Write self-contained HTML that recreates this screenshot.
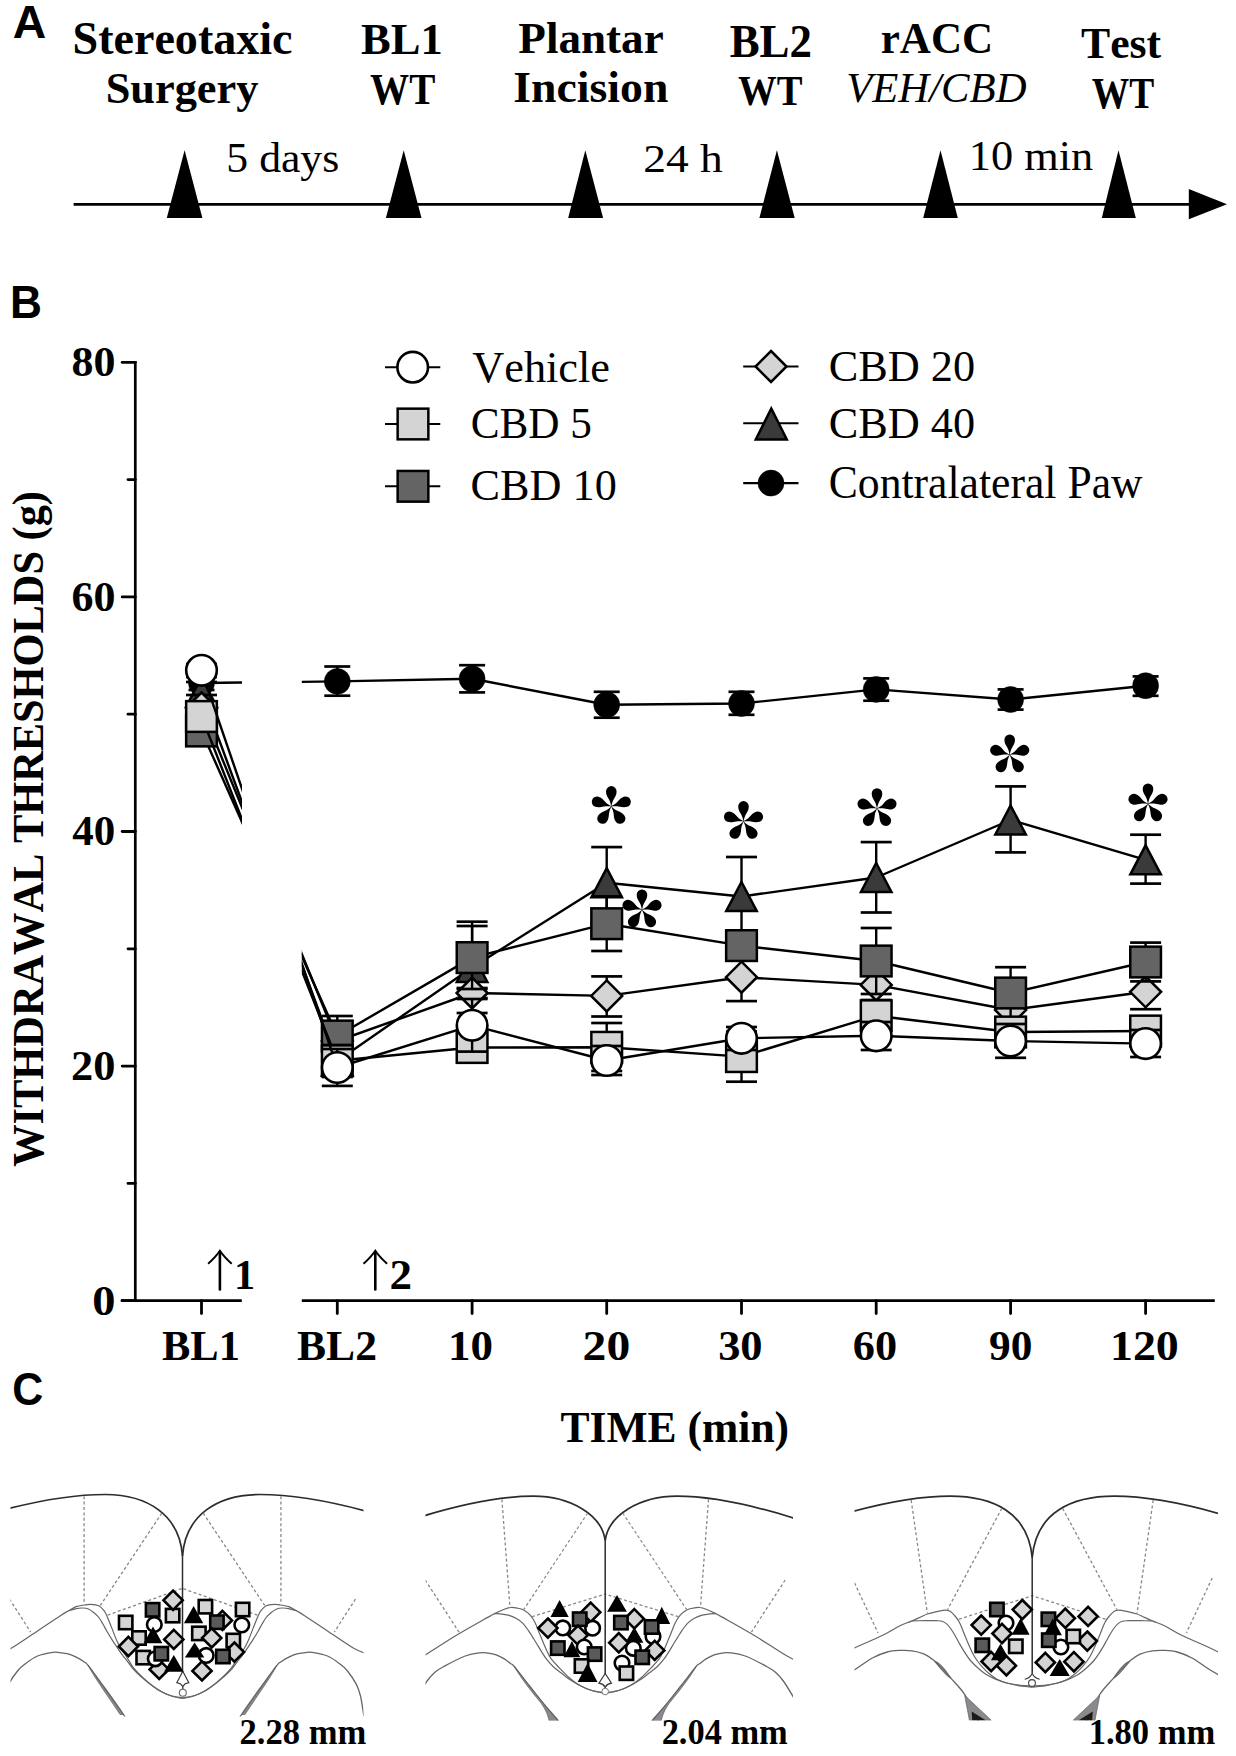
<!DOCTYPE html>
<html><head><meta charset="utf-8"><style>
html,body{margin:0;padding:0;background:#fff;overflow:hidden}
svg{display:block}
text{font-kerning:none;font-feature-settings:"kern" 0;}
</style></head><body>
<svg width="1236" height="1756" viewBox="0 0 1236 1756">
<rect width="1236" height="1756" fill="#fff"/>
<text transform="translate(12.85,38.00) scale(0.9905,1)" font-family="'Liberation Sans', sans-serif" font-weight="bold" font-style="normal" font-size="46.8" fill="#000">A</text>
<text transform="translate(72.55,54.00) scale(0.9998,1)" font-family="'Liberation Serif', serif" font-weight="bold" font-style="normal" font-size="46.1" fill="#000">Stereotaxic</text>
<text transform="translate(105.64,103.00) scale(1.0015,1)" font-family="'Liberation Serif', serif" font-weight="bold" font-style="normal" font-size="44.3" fill="#000">Surgery</text>
<text transform="translate(361.06,53.70) scale(1.0200,1)" font-family="'Liberation Serif', serif" font-weight="bold" font-style="normal" font-size="43.7" fill="#000">BL1</text>
<text transform="translate(370.05,103.80) scale(0.8815,1)" font-family="'Liberation Serif', serif" font-weight="bold" font-style="normal" font-size="44.4" fill="#000">WT</text>
<text transform="translate(518.33,53.10) scale(1.0378,1)" font-family="'Liberation Serif', serif" font-weight="bold" font-style="normal" font-size="43.5" fill="#000">Plantar</text>
<text transform="translate(513.26,101.80) scale(1.0260,1)" font-family="'Liberation Serif', serif" font-weight="bold" font-style="normal" font-size="44.6" fill="#000">Incision</text>
<text transform="translate(729.65,56.50) scale(0.9872,1)" font-family="'Liberation Serif', serif" font-weight="bold" font-style="normal" font-size="45.5" fill="#000">BL2</text>
<text transform="translate(738.05,104.90) scale(0.9073,1)" font-family="'Liberation Serif', serif" font-weight="bold" font-style="normal" font-size="42.6" fill="#000">WT</text>
<text transform="translate(880.74,52.80) scale(0.9825,1)" font-family="'Liberation Serif', serif" font-weight="bold" font-style="normal" font-size="43.8" fill="#000">rACC</text>
<text transform="translate(846.17,102.30) scale(0.9890,1)" font-family="'Liberation Serif', serif" font-weight="normal" font-style="italic" font-size="43.2" fill="#000">VEH/CBD</text>
<text transform="translate(1081.02,58.40) scale(0.9874,1)" font-family="'Liberation Serif', serif" font-weight="bold" font-style="normal" font-size="44.3" fill="#000">Test</text>
<text transform="translate(1091.67,107.50) scale(0.8560,1)" font-family="'Liberation Serif', serif" font-weight="bold" font-style="normal" font-size="43.8" fill="#000">WT</text>
<text transform="translate(226.36,172.00) scale(1.0458,1)" font-family="'Liberation Serif', serif" font-weight="normal" font-style="normal" font-size="41.8" fill="#000">5 days</text>
<text transform="translate(643.20,172.00) scale(1.1094,1)" font-family="'Liberation Serif', serif" font-weight="normal" font-style="normal" font-size="41" fill="#000">24 h</text>
<text transform="translate(968.80,170.30) scale(1.0639,1)" font-family="'Liberation Serif', serif" font-weight="normal" font-style="normal" font-size="41.7" fill="#000">10 min</text>
<line x1="73.60" y1="204.40" x2="1195.00" y2="204.40" stroke="#000" stroke-width="2.6" />
<path d="M1188.8,189 L1227,204.3 L1188.8,219.3 Z" fill="#000" stroke="none" stroke-width="2" />
<path d="M184.6,150.3 L202.4,218 L166.8,218 Z" fill="#000" stroke="none" stroke-width="2" />
<path d="M403.7,150.3 L421.5,218 L385.9,218 Z" fill="#000" stroke="none" stroke-width="2" />
<path d="M585.3,150.3 L603.1,218 L568.2,218 Z" fill="#000" stroke="none" stroke-width="2" />
<path d="M776.9,150.3 L794.7,218 L759.4,218 Z" fill="#000" stroke="none" stroke-width="2" />
<path d="M940.5,150.3 L957.8,218 L923.2,218 Z" fill="#000" stroke="none" stroke-width="2" />
<path d="M1118.5,150.3 L1135.8,218 L1101.8,218 Z" fill="#000" stroke="none" stroke-width="2" />
<text transform="translate(10.04,317.90) scale(0.9521,1)" font-family="'Liberation Sans', sans-serif" font-weight="bold" font-style="normal" font-size="46.5" fill="#000">B</text>
<line x1="135.30" y1="361.00" x2="135.30" y2="1302.00" stroke="#000" stroke-width="2.7" />
<line x1="122.20" y1="1300.70" x2="135.30" y2="1300.70" stroke="#000" stroke-width="2.8" stroke-linecap="round"/>
<line x1="128.00" y1="1183.40" x2="135.30" y2="1183.40" stroke="#000" stroke-width="2.8" stroke-linecap="round"/>
<line x1="122.20" y1="1066.10" x2="135.30" y2="1066.10" stroke="#000" stroke-width="2.8" stroke-linecap="round"/>
<line x1="128.00" y1="948.80" x2="135.30" y2="948.80" stroke="#000" stroke-width="2.8" stroke-linecap="round"/>
<line x1="122.20" y1="831.50" x2="135.30" y2="831.50" stroke="#000" stroke-width="2.8" stroke-linecap="round"/>
<line x1="128.00" y1="714.20" x2="135.30" y2="714.20" stroke="#000" stroke-width="2.8" stroke-linecap="round"/>
<line x1="122.20" y1="596.90" x2="135.30" y2="596.90" stroke="#000" stroke-width="2.8" stroke-linecap="round"/>
<line x1="128.00" y1="479.60" x2="135.30" y2="479.60" stroke="#000" stroke-width="2.8" stroke-linecap="round"/>
<line x1="122.20" y1="362.30" x2="135.30" y2="362.30" stroke="#000" stroke-width="2.8" stroke-linecap="round"/>
<text transform="translate(71.44,376.10) scale(1.0460,1)" font-family="'Liberation Serif', serif" font-weight="bold" font-style="normal" font-size="42" fill="#000">80</text>
<text transform="translate(71.40,610.70) scale(1.0471,1)" font-family="'Liberation Serif', serif" font-weight="bold" font-style="normal" font-size="42" fill="#000">60</text>
<text transform="translate(72.31,845.30) scale(1.0245,1)" font-family="'Liberation Serif', serif" font-weight="bold" font-style="normal" font-size="42" fill="#000">40</text>
<text transform="translate(71.04,1079.90) scale(1.0560,1)" font-family="'Liberation Serif', serif" font-weight="bold" font-style="normal" font-size="42" fill="#000">20</text>
<text transform="translate(92.23,1314.50) scale(1.1067,1)" font-family="'Liberation Serif', serif" font-weight="bold" font-style="normal" font-size="42" fill="#000">0</text>
<line x1="120.80" y1="1300.70" x2="241.80" y2="1300.70" stroke="#000" stroke-width="2.7" />
<line x1="301.80" y1="1300.70" x2="1214.80" y2="1300.70" stroke="#000" stroke-width="2.7" />
<line x1="201.50" y1="1300.70" x2="201.50" y2="1313.60" stroke="#000" stroke-width="2.8" stroke-linecap="round"/>
<line x1="337.30" y1="1300.70" x2="337.30" y2="1313.60" stroke="#000" stroke-width="2.8" stroke-linecap="round"/>
<line x1="472.10" y1="1300.70" x2="472.10" y2="1313.60" stroke="#000" stroke-width="2.8" stroke-linecap="round"/>
<line x1="606.70" y1="1300.70" x2="606.70" y2="1313.60" stroke="#000" stroke-width="2.8" stroke-linecap="round"/>
<line x1="741.50" y1="1300.70" x2="741.50" y2="1313.60" stroke="#000" stroke-width="2.8" stroke-linecap="round"/>
<line x1="876.20" y1="1300.70" x2="876.20" y2="1313.60" stroke="#000" stroke-width="2.8" stroke-linecap="round"/>
<line x1="1010.60" y1="1300.70" x2="1010.60" y2="1313.60" stroke="#000" stroke-width="2.8" stroke-linecap="round"/>
<line x1="1145.60" y1="1300.70" x2="1145.60" y2="1313.60" stroke="#000" stroke-width="2.8" stroke-linecap="round"/>
<text transform="translate(161.99,1359.60) scale(1.0127,1)" font-family="'Liberation Serif', serif" font-weight="bold" font-style="normal" font-size="42" fill="#000">BL1</text>
<text transform="translate(297.08,1359.60) scale(1.0372,1)" font-family="'Liberation Serif', serif" font-weight="bold" font-style="normal" font-size="42" fill="#000">BL2</text>
<text transform="translate(447.99,1359.60) scale(1.0719,1)" font-family="'Liberation Serif', serif" font-weight="bold" font-style="normal" font-size="42" fill="#000">10</text>
<text transform="translate(582.60,1359.60) scale(1.1336,1)" font-family="'Liberation Serif', serif" font-weight="bold" font-style="normal" font-size="42" fill="#000">20</text>
<text transform="translate(718.13,1359.60) scale(1.0587,1)" font-family="'Liberation Serif', serif" font-weight="bold" font-style="normal" font-size="42" fill="#000">30</text>
<text transform="translate(852.79,1359.60) scale(1.0548,1)" font-family="'Liberation Serif', serif" font-weight="bold" font-style="normal" font-size="42" fill="#000">60</text>
<text transform="translate(989.12,1359.60) scale(1.0318,1)" font-family="'Liberation Serif', serif" font-weight="bold" font-style="normal" font-size="42" fill="#000">90</text>
<text transform="translate(1109.92,1359.60) scale(1.0941,1)" font-family="'Liberation Serif', serif" font-weight="bold" font-style="normal" font-size="42" fill="#000">120</text>
<text transform="translate(560.52,1442.00) scale(1.0010,1)" font-family="'Liberation Serif', serif" font-weight="bold" font-style="normal" font-size="43.5" fill="#000">TIME (min)</text>
<text transform="translate(42.90,1166.80) rotate(-90) scale(0.9634,1)" font-family="'Liberation Serif', serif" font-weight="bold" font-style="normal" font-size="44">WITHDRAWAL THRESHOLDS (g)</text>
<defs><clipPath id="cl"><rect x="119" y="300" width="123" height="1000"/><rect x="301.8" y="300" width="930" height="1000"/></clipPath></defs>
<polyline clip-path="url(#cl)" fill="none" stroke="#000" stroke-width="2.4" stroke-linejoin="round" points="201.5,683.0 337.3,681.4 472.1,678.8 606.7,704.7 741.5,703.5 876.2,689.4 1010.6,699.5 1145.6,685.7"/>
<line x1="201.50" y1="676.00" x2="201.50" y2="690.00" stroke="#000" stroke-width="2.4" />
<line x1="188.50" y1="676.00" x2="214.50" y2="676.00" stroke="#000" stroke-width="2.7" />
<line x1="188.50" y1="690.00" x2="214.50" y2="690.00" stroke="#000" stroke-width="2.7" />
<line x1="337.30" y1="666.50" x2="337.30" y2="695.70" stroke="#000" stroke-width="2.4" />
<line x1="324.30" y1="666.50" x2="350.30" y2="666.50" stroke="#000" stroke-width="2.7" />
<line x1="324.30" y1="695.70" x2="350.30" y2="695.70" stroke="#000" stroke-width="2.7" />
<line x1="472.10" y1="665.20" x2="472.10" y2="692.40" stroke="#000" stroke-width="2.4" />
<line x1="459.10" y1="665.20" x2="485.10" y2="665.20" stroke="#000" stroke-width="2.7" />
<line x1="459.10" y1="692.40" x2="485.10" y2="692.40" stroke="#000" stroke-width="2.7" />
<line x1="606.70" y1="691.80" x2="606.70" y2="717.70" stroke="#000" stroke-width="2.4" />
<line x1="593.70" y1="691.80" x2="619.70" y2="691.80" stroke="#000" stroke-width="2.7" />
<line x1="593.70" y1="717.70" x2="619.70" y2="717.70" stroke="#000" stroke-width="2.7" />
<line x1="741.50" y1="691.80" x2="741.50" y2="714.80" stroke="#000" stroke-width="2.4" />
<line x1="728.50" y1="691.80" x2="754.50" y2="691.80" stroke="#000" stroke-width="2.7" />
<line x1="728.50" y1="714.80" x2="754.50" y2="714.80" stroke="#000" stroke-width="2.7" />
<line x1="876.20" y1="678.40" x2="876.20" y2="700.70" stroke="#000" stroke-width="2.4" />
<line x1="863.20" y1="678.40" x2="889.20" y2="678.40" stroke="#000" stroke-width="2.7" />
<line x1="863.20" y1="700.70" x2="889.20" y2="700.70" stroke="#000" stroke-width="2.7" />
<line x1="1010.60" y1="689.40" x2="1010.60" y2="709.60" stroke="#000" stroke-width="2.4" />
<line x1="997.60" y1="689.40" x2="1023.60" y2="689.40" stroke="#000" stroke-width="2.7" />
<line x1="997.60" y1="709.60" x2="1023.60" y2="709.60" stroke="#000" stroke-width="2.7" />
<line x1="1145.60" y1="676.40" x2="1145.60" y2="695.80" stroke="#000" stroke-width="2.4" />
<line x1="1132.60" y1="676.40" x2="1158.60" y2="676.40" stroke="#000" stroke-width="2.7" />
<line x1="1132.60" y1="695.80" x2="1158.60" y2="695.80" stroke="#000" stroke-width="2.7" />
<circle cx="201.50" cy="683.00" r="13" fill="#000" stroke="#000" stroke-width="0.5"/>
<circle cx="337.30" cy="681.40" r="13" fill="#000" stroke="#000" stroke-width="0.5"/>
<circle cx="472.10" cy="678.80" r="13" fill="#000" stroke="#000" stroke-width="0.5"/>
<circle cx="606.70" cy="704.70" r="13" fill="#000" stroke="#000" stroke-width="0.5"/>
<circle cx="741.50" cy="703.50" r="13" fill="#000" stroke="#000" stroke-width="0.5"/>
<circle cx="876.20" cy="689.40" r="13" fill="#000" stroke="#000" stroke-width="0.5"/>
<circle cx="1010.60" cy="699.50" r="13" fill="#000" stroke="#000" stroke-width="0.5"/>
<circle cx="1145.60" cy="685.70" r="13" fill="#000" stroke="#000" stroke-width="0.5"/>
<polyline clip-path="url(#cl)" fill="none" stroke="#000" stroke-width="2.4" stroke-linejoin="round" points="201.5,692.0 337.3,1061.0 472.1,967.4 606.7,882.7 741.5,896.5 876.2,877.5 1010.6,820.0 1145.6,859.8"/>
<line x1="201.50" y1="682.00" x2="201.50" y2="702.00" stroke="#000" stroke-width="2.4" />
<line x1="186.00" y1="682.00" x2="217.00" y2="682.00" stroke="#000" stroke-width="2.7" />
<line x1="186.00" y1="702.00" x2="217.00" y2="702.00" stroke="#000" stroke-width="2.7" />
<line x1="337.30" y1="1045.00" x2="337.30" y2="1077.00" stroke="#000" stroke-width="2.4" />
<line x1="321.80" y1="1045.00" x2="352.80" y2="1045.00" stroke="#000" stroke-width="2.7" />
<line x1="321.80" y1="1077.00" x2="352.80" y2="1077.00" stroke="#000" stroke-width="2.7" />
<line x1="472.10" y1="921.70" x2="472.10" y2="1013.00" stroke="#000" stroke-width="2.4" />
<line x1="456.60" y1="921.70" x2="487.60" y2="921.70" stroke="#000" stroke-width="2.7" />
<line x1="456.60" y1="1013.00" x2="487.60" y2="1013.00" stroke="#000" stroke-width="2.7" />
<line x1="606.70" y1="847.10" x2="606.70" y2="918.30" stroke="#000" stroke-width="2.4" />
<line x1="591.20" y1="847.10" x2="622.20" y2="847.10" stroke="#000" stroke-width="2.7" />
<line x1="591.20" y1="918.30" x2="622.20" y2="918.30" stroke="#000" stroke-width="2.7" />
<line x1="741.50" y1="857.00" x2="741.50" y2="936.00" stroke="#000" stroke-width="2.4" />
<line x1="726.00" y1="857.00" x2="757.00" y2="857.00" stroke="#000" stroke-width="2.7" />
<line x1="726.00" y1="936.00" x2="757.00" y2="936.00" stroke="#000" stroke-width="2.7" />
<line x1="876.20" y1="842.10" x2="876.20" y2="912.50" stroke="#000" stroke-width="2.4" />
<line x1="860.70" y1="842.10" x2="891.70" y2="842.10" stroke="#000" stroke-width="2.7" />
<line x1="860.70" y1="912.50" x2="891.70" y2="912.50" stroke="#000" stroke-width="2.7" />
<line x1="1010.60" y1="786.40" x2="1010.60" y2="852.40" stroke="#000" stroke-width="2.4" />
<line x1="995.10" y1="786.40" x2="1026.10" y2="786.40" stroke="#000" stroke-width="2.7" />
<line x1="995.10" y1="852.40" x2="1026.10" y2="852.40" stroke="#000" stroke-width="2.7" />
<line x1="1145.60" y1="834.70" x2="1145.60" y2="883.60" stroke="#000" stroke-width="2.4" />
<line x1="1130.10" y1="834.70" x2="1161.10" y2="834.70" stroke="#000" stroke-width="2.7" />
<line x1="1130.10" y1="883.60" x2="1161.10" y2="883.60" stroke="#000" stroke-width="2.7" />
<path d="M201.50,677.50 L216.75,706.50 L186.25,706.50 Z" fill="#3a3a3a" stroke="#000" stroke-width="2.5" stroke-linejoin="miter"/>
<path d="M337.30,1046.50 L352.55,1075.50 L322.05,1075.50 Z" fill="#3a3a3a" stroke="#000" stroke-width="2.5" stroke-linejoin="miter"/>
<path d="M472.10,952.90 L487.35,981.90 L456.85,981.90 Z" fill="#3a3a3a" stroke="#000" stroke-width="2.5" stroke-linejoin="miter"/>
<path d="M606.70,868.20 L621.95,897.20 L591.45,897.20 Z" fill="#3a3a3a" stroke="#000" stroke-width="2.5" stroke-linejoin="miter"/>
<path d="M741.50,882.00 L756.75,911.00 L726.25,911.00 Z" fill="#3a3a3a" stroke="#000" stroke-width="2.5" stroke-linejoin="miter"/>
<path d="M876.20,863.00 L891.45,892.00 L860.95,892.00 Z" fill="#3a3a3a" stroke="#000" stroke-width="2.5" stroke-linejoin="miter"/>
<path d="M1010.60,805.50 L1025.85,834.50 L995.35,834.50 Z" fill="#3a3a3a" stroke="#000" stroke-width="2.5" stroke-linejoin="miter"/>
<path d="M1145.60,845.30 L1160.85,874.30 L1130.35,874.30 Z" fill="#3a3a3a" stroke="#000" stroke-width="2.5" stroke-linejoin="miter"/>
<polyline clip-path="url(#cl)" fill="none" stroke="#000" stroke-width="2.4" stroke-linejoin="round" points="201.5,708.0 337.3,1041.0 472.1,993.0 606.7,995.9 741.5,977.2 876.2,984.9 1010.6,1010.0 1145.6,991.8"/>
<line x1="201.50" y1="695.00" x2="201.50" y2="721.00" stroke="#000" stroke-width="2.4" />
<line x1="186.00" y1="695.00" x2="217.00" y2="695.00" stroke="#000" stroke-width="2.7" />
<line x1="186.00" y1="721.00" x2="217.00" y2="721.00" stroke="#000" stroke-width="2.7" />
<line x1="337.30" y1="1025.00" x2="337.30" y2="1057.00" stroke="#000" stroke-width="2.4" />
<line x1="321.80" y1="1025.00" x2="352.80" y2="1025.00" stroke="#000" stroke-width="2.7" />
<line x1="321.80" y1="1057.00" x2="352.80" y2="1057.00" stroke="#000" stroke-width="2.7" />
<line x1="472.10" y1="988.00" x2="472.10" y2="998.00" stroke="#000" stroke-width="2.4" />
<line x1="456.60" y1="988.00" x2="487.60" y2="988.00" stroke="#000" stroke-width="2.7" />
<line x1="456.60" y1="998.00" x2="487.60" y2="998.00" stroke="#000" stroke-width="2.7" />
<line x1="606.70" y1="976.40" x2="606.70" y2="1016.50" stroke="#000" stroke-width="2.4" />
<line x1="591.20" y1="976.40" x2="622.20" y2="976.40" stroke="#000" stroke-width="2.7" />
<line x1="591.20" y1="1016.50" x2="622.20" y2="1016.50" stroke="#000" stroke-width="2.7" />
<line x1="741.50" y1="953.00" x2="741.50" y2="1001.10" stroke="#000" stroke-width="2.4" />
<line x1="726.00" y1="953.00" x2="757.00" y2="953.00" stroke="#000" stroke-width="2.7" />
<line x1="726.00" y1="1001.10" x2="757.00" y2="1001.10" stroke="#000" stroke-width="2.7" />
<line x1="876.20" y1="968.00" x2="876.20" y2="1002.00" stroke="#000" stroke-width="2.4" />
<line x1="860.70" y1="968.00" x2="891.70" y2="968.00" stroke="#000" stroke-width="2.7" />
<line x1="860.70" y1="1002.00" x2="891.70" y2="1002.00" stroke="#000" stroke-width="2.7" />
<line x1="1010.60" y1="995.00" x2="1010.60" y2="1025.00" stroke="#000" stroke-width="2.4" />
<line x1="995.10" y1="995.00" x2="1026.10" y2="995.00" stroke="#000" stroke-width="2.7" />
<line x1="995.10" y1="1025.00" x2="1026.10" y2="1025.00" stroke="#000" stroke-width="2.7" />
<line x1="1145.60" y1="974.40" x2="1145.60" y2="1009.20" stroke="#000" stroke-width="2.4" />
<line x1="1130.10" y1="974.40" x2="1161.10" y2="974.40" stroke="#000" stroke-width="2.7" />
<line x1="1130.10" y1="1009.20" x2="1161.10" y2="1009.20" stroke="#000" stroke-width="2.7" />
<path d="M201.50,692.50 L217.00,708.00 L201.50,723.50 L186.00,708.00 Z" fill="#d4d4d4" stroke="#000" stroke-width="2.5" stroke-linejoin="miter"/>
<path d="M337.30,1025.50 L352.80,1041.00 L337.30,1056.50 L321.80,1041.00 Z" fill="#d4d4d4" stroke="#000" stroke-width="2.5" stroke-linejoin="miter"/>
<path d="M472.10,977.50 L487.60,993.00 L472.10,1008.50 L456.60,993.00 Z" fill="#d4d4d4" stroke="#000" stroke-width="2.5" stroke-linejoin="miter"/>
<path d="M606.70,980.40 L622.20,995.90 L606.70,1011.40 L591.20,995.90 Z" fill="#d4d4d4" stroke="#000" stroke-width="2.5" stroke-linejoin="miter"/>
<path d="M741.50,961.70 L757.00,977.20 L741.50,992.70 L726.00,977.20 Z" fill="#d4d4d4" stroke="#000" stroke-width="2.5" stroke-linejoin="miter"/>
<path d="M876.20,969.40 L891.70,984.90 L876.20,1000.40 L860.70,984.90 Z" fill="#d4d4d4" stroke="#000" stroke-width="2.5" stroke-linejoin="miter"/>
<path d="M1010.60,994.50 L1026.10,1010.00 L1010.60,1025.50 L995.10,1010.00 Z" fill="#d4d4d4" stroke="#000" stroke-width="2.5" stroke-linejoin="miter"/>
<path d="M1145.60,976.30 L1161.10,991.80 L1145.60,1007.30 L1130.10,991.80 Z" fill="#d4d4d4" stroke="#000" stroke-width="2.5" stroke-linejoin="miter"/>
<polyline clip-path="url(#cl)" fill="none" stroke="#000" stroke-width="2.4" stroke-linejoin="round" points="201.5,731.0 337.3,1036.0 472.1,957.6 606.7,923.7 741.5,945.6 876.2,961.0 1010.6,993.0 1145.6,962.0"/>
<line x1="201.50" y1="720.00" x2="201.50" y2="742.00" stroke="#000" stroke-width="2.4" />
<line x1="186.00" y1="720.00" x2="217.00" y2="720.00" stroke="#000" stroke-width="2.7" />
<line x1="186.00" y1="742.00" x2="217.00" y2="742.00" stroke="#000" stroke-width="2.7" />
<line x1="337.30" y1="1016.00" x2="337.30" y2="1051.50" stroke="#000" stroke-width="2.4" />
<line x1="321.80" y1="1016.00" x2="352.80" y2="1016.00" stroke="#000" stroke-width="2.7" />
<line x1="321.80" y1="1051.50" x2="352.80" y2="1051.50" stroke="#000" stroke-width="2.7" />
<line x1="472.10" y1="926.00" x2="472.10" y2="989.00" stroke="#000" stroke-width="2.4" />
<line x1="456.60" y1="926.00" x2="487.60" y2="926.00" stroke="#000" stroke-width="2.7" />
<line x1="456.60" y1="989.00" x2="487.60" y2="989.00" stroke="#000" stroke-width="2.7" />
<line x1="606.70" y1="896.40" x2="606.70" y2="951.00" stroke="#000" stroke-width="2.4" />
<line x1="591.20" y1="896.40" x2="622.20" y2="896.40" stroke="#000" stroke-width="2.7" />
<line x1="591.20" y1="951.00" x2="622.20" y2="951.00" stroke="#000" stroke-width="2.7" />
<line x1="741.50" y1="935.00" x2="741.50" y2="956.00" stroke="#000" stroke-width="2.4" />
<line x1="726.00" y1="935.00" x2="757.00" y2="935.00" stroke="#000" stroke-width="2.7" />
<line x1="726.00" y1="956.00" x2="757.00" y2="956.00" stroke="#000" stroke-width="2.7" />
<line x1="876.20" y1="928.00" x2="876.20" y2="994.00" stroke="#000" stroke-width="2.4" />
<line x1="860.70" y1="928.00" x2="891.70" y2="928.00" stroke="#000" stroke-width="2.7" />
<line x1="860.70" y1="994.00" x2="891.70" y2="994.00" stroke="#000" stroke-width="2.7" />
<line x1="1010.60" y1="967.20" x2="1010.60" y2="1018.80" stroke="#000" stroke-width="2.4" />
<line x1="995.10" y1="967.20" x2="1026.10" y2="967.20" stroke="#000" stroke-width="2.7" />
<line x1="995.10" y1="1018.80" x2="1026.10" y2="1018.80" stroke="#000" stroke-width="2.7" />
<line x1="1145.60" y1="942.60" x2="1145.60" y2="981.40" stroke="#000" stroke-width="2.4" />
<line x1="1130.10" y1="942.60" x2="1161.10" y2="942.60" stroke="#000" stroke-width="2.7" />
<line x1="1130.10" y1="981.40" x2="1161.10" y2="981.40" stroke="#000" stroke-width="2.7" />
<rect x="186.15" y="715.65" width="30.7" height="30.7" fill="#646464" stroke="#000" stroke-width="2.5"/>
<rect x="321.95" y="1020.65" width="30.7" height="30.7" fill="#646464" stroke="#000" stroke-width="2.5"/>
<rect x="456.75" y="942.25" width="30.7" height="30.7" fill="#646464" stroke="#000" stroke-width="2.5"/>
<rect x="591.35" y="908.35" width="30.7" height="30.7" fill="#646464" stroke="#000" stroke-width="2.5"/>
<rect x="726.15" y="930.25" width="30.7" height="30.7" fill="#646464" stroke="#000" stroke-width="2.5"/>
<rect x="860.85" y="945.65" width="30.7" height="30.7" fill="#646464" stroke="#000" stroke-width="2.5"/>
<rect x="995.25" y="977.65" width="30.7" height="30.7" fill="#646464" stroke="#000" stroke-width="2.5"/>
<rect x="1130.25" y="946.65" width="30.7" height="30.7" fill="#646464" stroke="#000" stroke-width="2.5"/>
<polyline clip-path="url(#cl)" fill="none" stroke="#000" stroke-width="2.4" stroke-linejoin="round" points="201.5,716.5 337.3,1060.8 472.1,1047.5 606.7,1047.3 741.5,1056.6 876.2,1015.7 1010.6,1032.0 1145.6,1031.0"/>
<line x1="201.50" y1="705.00" x2="201.50" y2="728.00" stroke="#000" stroke-width="2.4" />
<line x1="186.00" y1="705.00" x2="217.00" y2="705.00" stroke="#000" stroke-width="2.7" />
<line x1="186.00" y1="728.00" x2="217.00" y2="728.00" stroke="#000" stroke-width="2.7" />
<line x1="337.30" y1="1045.00" x2="337.30" y2="1076.00" stroke="#000" stroke-width="2.4" />
<line x1="321.80" y1="1045.00" x2="352.80" y2="1045.00" stroke="#000" stroke-width="2.7" />
<line x1="321.80" y1="1076.00" x2="352.80" y2="1076.00" stroke="#000" stroke-width="2.7" />
<line x1="472.10" y1="1030.00" x2="472.10" y2="1060.00" stroke="#000" stroke-width="2.4" />
<line x1="456.60" y1="1030.00" x2="487.60" y2="1030.00" stroke="#000" stroke-width="2.7" />
<line x1="456.60" y1="1060.00" x2="487.60" y2="1060.00" stroke="#000" stroke-width="2.7" />
<line x1="606.70" y1="1023.00" x2="606.70" y2="1071.00" stroke="#000" stroke-width="2.4" />
<line x1="591.20" y1="1023.00" x2="622.20" y2="1023.00" stroke="#000" stroke-width="2.7" />
<line x1="591.20" y1="1071.00" x2="622.20" y2="1071.00" stroke="#000" stroke-width="2.7" />
<line x1="741.50" y1="1031.50" x2="741.50" y2="1081.70" stroke="#000" stroke-width="2.4" />
<line x1="726.00" y1="1031.50" x2="757.00" y2="1031.50" stroke="#000" stroke-width="2.7" />
<line x1="726.00" y1="1081.70" x2="757.00" y2="1081.70" stroke="#000" stroke-width="2.7" />
<line x1="876.20" y1="1000.00" x2="876.20" y2="1031.00" stroke="#000" stroke-width="2.4" />
<line x1="860.70" y1="1000.00" x2="891.70" y2="1000.00" stroke="#000" stroke-width="2.7" />
<line x1="860.70" y1="1031.00" x2="891.70" y2="1031.00" stroke="#000" stroke-width="2.7" />
<line x1="1010.60" y1="1019.00" x2="1010.60" y2="1045.00" stroke="#000" stroke-width="2.4" />
<line x1="995.10" y1="1019.00" x2="1026.10" y2="1019.00" stroke="#000" stroke-width="2.7" />
<line x1="995.10" y1="1045.00" x2="1026.10" y2="1045.00" stroke="#000" stroke-width="2.7" />
<line x1="1145.60" y1="1018.00" x2="1145.60" y2="1044.00" stroke="#000" stroke-width="2.4" />
<line x1="1130.10" y1="1018.00" x2="1161.10" y2="1018.00" stroke="#000" stroke-width="2.7" />
<line x1="1130.10" y1="1044.00" x2="1161.10" y2="1044.00" stroke="#000" stroke-width="2.7" />
<rect x="186.15" y="701.15" width="30.7" height="30.7" fill="#d4d4d4" stroke="#000" stroke-width="2.5"/>
<rect x="321.95" y="1045.45" width="30.7" height="30.7" fill="#d4d4d4" stroke="#000" stroke-width="2.5"/>
<rect x="456.75" y="1032.15" width="30.7" height="30.7" fill="#d4d4d4" stroke="#000" stroke-width="2.5"/>
<rect x="591.35" y="1031.95" width="30.7" height="30.7" fill="#d4d4d4" stroke="#000" stroke-width="2.5"/>
<rect x="726.15" y="1041.25" width="30.7" height="30.7" fill="#d4d4d4" stroke="#000" stroke-width="2.5"/>
<rect x="860.85" y="1000.35" width="30.7" height="30.7" fill="#d4d4d4" stroke="#000" stroke-width="2.5"/>
<rect x="995.25" y="1016.65" width="30.7" height="30.7" fill="#d4d4d4" stroke="#000" stroke-width="2.5"/>
<rect x="1130.25" y="1015.65" width="30.7" height="30.7" fill="#d4d4d4" stroke="#000" stroke-width="2.5"/>
<polyline clip-path="url(#cl)" fill="none" stroke="#000" stroke-width="2.4" stroke-linejoin="round" points="201.5,670.3 337.3,1067.5 472.1,1025.3 606.7,1060.5 741.5,1038.3 876.2,1035.8 1010.6,1041.0 1145.6,1043.6"/>
<line x1="201.50" y1="664.00" x2="201.50" y2="677.00" stroke="#000" stroke-width="2.4" />
<line x1="186.00" y1="664.00" x2="217.00" y2="664.00" stroke="#000" stroke-width="2.7" />
<line x1="186.00" y1="677.00" x2="217.00" y2="677.00" stroke="#000" stroke-width="2.7" />
<line x1="337.30" y1="1049.00" x2="337.30" y2="1085.90" stroke="#000" stroke-width="2.4" />
<line x1="321.80" y1="1049.00" x2="352.80" y2="1049.00" stroke="#000" stroke-width="2.7" />
<line x1="321.80" y1="1085.90" x2="352.80" y2="1085.90" stroke="#000" stroke-width="2.7" />
<line x1="472.10" y1="999.00" x2="472.10" y2="1051.60" stroke="#000" stroke-width="2.4" />
<line x1="456.60" y1="999.00" x2="487.60" y2="999.00" stroke="#000" stroke-width="2.7" />
<line x1="456.60" y1="1051.60" x2="487.60" y2="1051.60" stroke="#000" stroke-width="2.7" />
<line x1="606.70" y1="1046.00" x2="606.70" y2="1075.00" stroke="#000" stroke-width="2.4" />
<line x1="591.20" y1="1046.00" x2="622.20" y2="1046.00" stroke="#000" stroke-width="2.7" />
<line x1="591.20" y1="1075.00" x2="622.20" y2="1075.00" stroke="#000" stroke-width="2.7" />
<line x1="741.50" y1="1027.00" x2="741.50" y2="1050.00" stroke="#000" stroke-width="2.4" />
<line x1="726.00" y1="1027.00" x2="757.00" y2="1027.00" stroke="#000" stroke-width="2.7" />
<line x1="726.00" y1="1050.00" x2="757.00" y2="1050.00" stroke="#000" stroke-width="2.7" />
<line x1="876.20" y1="1022.00" x2="876.20" y2="1050.00" stroke="#000" stroke-width="2.4" />
<line x1="860.70" y1="1022.00" x2="891.70" y2="1022.00" stroke="#000" stroke-width="2.7" />
<line x1="860.70" y1="1050.00" x2="891.70" y2="1050.00" stroke="#000" stroke-width="2.7" />
<line x1="1010.60" y1="1024.00" x2="1010.60" y2="1057.80" stroke="#000" stroke-width="2.4" />
<line x1="995.10" y1="1024.00" x2="1026.10" y2="1024.00" stroke="#000" stroke-width="2.7" />
<line x1="995.10" y1="1057.80" x2="1026.10" y2="1057.80" stroke="#000" stroke-width="2.7" />
<line x1="1145.60" y1="1030.00" x2="1145.60" y2="1057.00" stroke="#000" stroke-width="2.4" />
<line x1="1130.10" y1="1030.00" x2="1161.10" y2="1030.00" stroke="#000" stroke-width="2.7" />
<line x1="1130.10" y1="1057.00" x2="1161.10" y2="1057.00" stroke="#000" stroke-width="2.7" />
<circle cx="201.50" cy="670.30" r="15.3" fill="#fff" stroke="#000" stroke-width="2.6"/>
<circle cx="337.30" cy="1067.50" r="15.3" fill="#fff" stroke="#000" stroke-width="2.6"/>
<circle cx="472.10" cy="1025.30" r="15.3" fill="#fff" stroke="#000" stroke-width="2.6"/>
<circle cx="606.70" cy="1060.50" r="15.3" fill="#fff" stroke="#000" stroke-width="2.6"/>
<circle cx="741.50" cy="1038.30" r="15.3" fill="#fff" stroke="#000" stroke-width="2.6"/>
<circle cx="876.20" cy="1035.80" r="15.3" fill="#fff" stroke="#000" stroke-width="2.6"/>
<circle cx="1010.60" cy="1041.00" r="15.3" fill="#fff" stroke="#000" stroke-width="2.6"/>
<circle cx="1145.60" cy="1043.60" r="15.3" fill="#fff" stroke="#000" stroke-width="2.6"/>
<g transform="translate(611.30,806.40) scale(1.0)"><path d="M0,0.6 C-0.6,-3 -1.2,-5 -2.3,-7 C-3.6,-9.5 -5.3,-11.5 -5.3,-15 A5.3,5.3 0 1 1 5.3,-15 C5.3,-11.5 3.6,-9.5 2.3,-7 C1.2,-5 0.6,-3 0,0.6 Z" transform="rotate(0)" fill="#000"/><path d="M0,0.6 C-0.6,-3 -1.2,-5 -2.3,-7 C-3.6,-9.5 -5.3,-11.5 -5.3,-15 A5.3,5.3 0 1 1 5.3,-15 C5.3,-11.5 3.6,-9.5 2.3,-7 C1.2,-5 0.6,-3 0,0.6 Z" transform="rotate(72)" fill="#000"/><path d="M0,0.6 C-0.6,-3 -1.2,-5 -2.3,-7 C-3.6,-9.5 -5.3,-11.5 -5.3,-15 A5.3,5.3 0 1 1 5.3,-15 C5.3,-11.5 3.6,-9.5 2.3,-7 C1.2,-5 0.6,-3 0,0.6 Z" transform="rotate(144)" fill="#000"/><path d="M0,0.6 C-0.6,-3 -1.2,-5 -2.3,-7 C-3.6,-9.5 -5.3,-11.5 -5.3,-15 A5.3,5.3 0 1 1 5.3,-15 C5.3,-11.5 3.6,-9.5 2.3,-7 C1.2,-5 0.6,-3 0,0.6 Z" transform="rotate(216)" fill="#000"/><path d="M0,0.6 C-0.6,-3 -1.2,-5 -2.3,-7 C-3.6,-9.5 -5.3,-11.5 -5.3,-15 A5.3,5.3 0 1 1 5.3,-15 C5.3,-11.5 3.6,-9.5 2.3,-7 C1.2,-5 0.6,-3 0,0.6 Z" transform="rotate(288)" fill="#000"/></g>
<g transform="translate(743.50,821.40) scale(1.0)"><path d="M0,0.6 C-0.6,-3 -1.2,-5 -2.3,-7 C-3.6,-9.5 -5.3,-11.5 -5.3,-15 A5.3,5.3 0 1 1 5.3,-15 C5.3,-11.5 3.6,-9.5 2.3,-7 C1.2,-5 0.6,-3 0,0.6 Z" transform="rotate(0)" fill="#000"/><path d="M0,0.6 C-0.6,-3 -1.2,-5 -2.3,-7 C-3.6,-9.5 -5.3,-11.5 -5.3,-15 A5.3,5.3 0 1 1 5.3,-15 C5.3,-11.5 3.6,-9.5 2.3,-7 C1.2,-5 0.6,-3 0,0.6 Z" transform="rotate(72)" fill="#000"/><path d="M0,0.6 C-0.6,-3 -1.2,-5 -2.3,-7 C-3.6,-9.5 -5.3,-11.5 -5.3,-15 A5.3,5.3 0 1 1 5.3,-15 C5.3,-11.5 3.6,-9.5 2.3,-7 C1.2,-5 0.6,-3 0,0.6 Z" transform="rotate(144)" fill="#000"/><path d="M0,0.6 C-0.6,-3 -1.2,-5 -2.3,-7 C-3.6,-9.5 -5.3,-11.5 -5.3,-15 A5.3,5.3 0 1 1 5.3,-15 C5.3,-11.5 3.6,-9.5 2.3,-7 C1.2,-5 0.6,-3 0,0.6 Z" transform="rotate(216)" fill="#000"/><path d="M0,0.6 C-0.6,-3 -1.2,-5 -2.3,-7 C-3.6,-9.5 -5.3,-11.5 -5.3,-15 A5.3,5.3 0 1 1 5.3,-15 C5.3,-11.5 3.6,-9.5 2.3,-7 C1.2,-5 0.6,-3 0,0.6 Z" transform="rotate(288)" fill="#000"/></g>
<g transform="translate(877.00,808.50) scale(1.0)"><path d="M0,0.6 C-0.6,-3 -1.2,-5 -2.3,-7 C-3.6,-9.5 -5.3,-11.5 -5.3,-15 A5.3,5.3 0 1 1 5.3,-15 C5.3,-11.5 3.6,-9.5 2.3,-7 C1.2,-5 0.6,-3 0,0.6 Z" transform="rotate(0)" fill="#000"/><path d="M0,0.6 C-0.6,-3 -1.2,-5 -2.3,-7 C-3.6,-9.5 -5.3,-11.5 -5.3,-15 A5.3,5.3 0 1 1 5.3,-15 C5.3,-11.5 3.6,-9.5 2.3,-7 C1.2,-5 0.6,-3 0,0.6 Z" transform="rotate(72)" fill="#000"/><path d="M0,0.6 C-0.6,-3 -1.2,-5 -2.3,-7 C-3.6,-9.5 -5.3,-11.5 -5.3,-15 A5.3,5.3 0 1 1 5.3,-15 C5.3,-11.5 3.6,-9.5 2.3,-7 C1.2,-5 0.6,-3 0,0.6 Z" transform="rotate(144)" fill="#000"/><path d="M0,0.6 C-0.6,-3 -1.2,-5 -2.3,-7 C-3.6,-9.5 -5.3,-11.5 -5.3,-15 A5.3,5.3 0 1 1 5.3,-15 C5.3,-11.5 3.6,-9.5 2.3,-7 C1.2,-5 0.6,-3 0,0.6 Z" transform="rotate(216)" fill="#000"/><path d="M0,0.6 C-0.6,-3 -1.2,-5 -2.3,-7 C-3.6,-9.5 -5.3,-11.5 -5.3,-15 A5.3,5.3 0 1 1 5.3,-15 C5.3,-11.5 3.6,-9.5 2.3,-7 C1.2,-5 0.6,-3 0,0.6 Z" transform="rotate(288)" fill="#000"/></g>
<g transform="translate(1009.70,754.80) scale(1.0)"><path d="M0,0.6 C-0.6,-3 -1.2,-5 -2.3,-7 C-3.6,-9.5 -5.3,-11.5 -5.3,-15 A5.3,5.3 0 1 1 5.3,-15 C5.3,-11.5 3.6,-9.5 2.3,-7 C1.2,-5 0.6,-3 0,0.6 Z" transform="rotate(0)" fill="#000"/><path d="M0,0.6 C-0.6,-3 -1.2,-5 -2.3,-7 C-3.6,-9.5 -5.3,-11.5 -5.3,-15 A5.3,5.3 0 1 1 5.3,-15 C5.3,-11.5 3.6,-9.5 2.3,-7 C1.2,-5 0.6,-3 0,0.6 Z" transform="rotate(72)" fill="#000"/><path d="M0,0.6 C-0.6,-3 -1.2,-5 -2.3,-7 C-3.6,-9.5 -5.3,-11.5 -5.3,-15 A5.3,5.3 0 1 1 5.3,-15 C5.3,-11.5 3.6,-9.5 2.3,-7 C1.2,-5 0.6,-3 0,0.6 Z" transform="rotate(144)" fill="#000"/><path d="M0,0.6 C-0.6,-3 -1.2,-5 -2.3,-7 C-3.6,-9.5 -5.3,-11.5 -5.3,-15 A5.3,5.3 0 1 1 5.3,-15 C5.3,-11.5 3.6,-9.5 2.3,-7 C1.2,-5 0.6,-3 0,0.6 Z" transform="rotate(216)" fill="#000"/><path d="M0,0.6 C-0.6,-3 -1.2,-5 -2.3,-7 C-3.6,-9.5 -5.3,-11.5 -5.3,-15 A5.3,5.3 0 1 1 5.3,-15 C5.3,-11.5 3.6,-9.5 2.3,-7 C1.2,-5 0.6,-3 0,0.6 Z" transform="rotate(288)" fill="#000"/></g>
<g transform="translate(1148.00,803.80) scale(1.0)"><path d="M0,0.6 C-0.6,-3 -1.2,-5 -2.3,-7 C-3.6,-9.5 -5.3,-11.5 -5.3,-15 A5.3,5.3 0 1 1 5.3,-15 C5.3,-11.5 3.6,-9.5 2.3,-7 C1.2,-5 0.6,-3 0,0.6 Z" transform="rotate(0)" fill="#000"/><path d="M0,0.6 C-0.6,-3 -1.2,-5 -2.3,-7 C-3.6,-9.5 -5.3,-11.5 -5.3,-15 A5.3,5.3 0 1 1 5.3,-15 C5.3,-11.5 3.6,-9.5 2.3,-7 C1.2,-5 0.6,-3 0,0.6 Z" transform="rotate(72)" fill="#000"/><path d="M0,0.6 C-0.6,-3 -1.2,-5 -2.3,-7 C-3.6,-9.5 -5.3,-11.5 -5.3,-15 A5.3,5.3 0 1 1 5.3,-15 C5.3,-11.5 3.6,-9.5 2.3,-7 C1.2,-5 0.6,-3 0,0.6 Z" transform="rotate(144)" fill="#000"/><path d="M0,0.6 C-0.6,-3 -1.2,-5 -2.3,-7 C-3.6,-9.5 -5.3,-11.5 -5.3,-15 A5.3,5.3 0 1 1 5.3,-15 C5.3,-11.5 3.6,-9.5 2.3,-7 C1.2,-5 0.6,-3 0,0.6 Z" transform="rotate(216)" fill="#000"/><path d="M0,0.6 C-0.6,-3 -1.2,-5 -2.3,-7 C-3.6,-9.5 -5.3,-11.5 -5.3,-15 A5.3,5.3 0 1 1 5.3,-15 C5.3,-11.5 3.6,-9.5 2.3,-7 C1.2,-5 0.6,-3 0,0.6 Z" transform="rotate(288)" fill="#000"/></g>
<g transform="translate(642.00,909.80) scale(1.0)"><path d="M0,0.6 C-0.6,-3 -1.2,-5 -2.3,-7 C-3.6,-9.5 -5.3,-11.5 -5.3,-15 A5.3,5.3 0 1 1 5.3,-15 C5.3,-11.5 3.6,-9.5 2.3,-7 C1.2,-5 0.6,-3 0,0.6 Z" transform="rotate(0)" fill="#000"/><path d="M0,0.6 C-0.6,-3 -1.2,-5 -2.3,-7 C-3.6,-9.5 -5.3,-11.5 -5.3,-15 A5.3,5.3 0 1 1 5.3,-15 C5.3,-11.5 3.6,-9.5 2.3,-7 C1.2,-5 0.6,-3 0,0.6 Z" transform="rotate(72)" fill="#000"/><path d="M0,0.6 C-0.6,-3 -1.2,-5 -2.3,-7 C-3.6,-9.5 -5.3,-11.5 -5.3,-15 A5.3,5.3 0 1 1 5.3,-15 C5.3,-11.5 3.6,-9.5 2.3,-7 C1.2,-5 0.6,-3 0,0.6 Z" transform="rotate(144)" fill="#000"/><path d="M0,0.6 C-0.6,-3 -1.2,-5 -2.3,-7 C-3.6,-9.5 -5.3,-11.5 -5.3,-15 A5.3,5.3 0 1 1 5.3,-15 C5.3,-11.5 3.6,-9.5 2.3,-7 C1.2,-5 0.6,-3 0,0.6 Z" transform="rotate(216)" fill="#000"/><path d="M0,0.6 C-0.6,-3 -1.2,-5 -2.3,-7 C-3.6,-9.5 -5.3,-11.5 -5.3,-15 A5.3,5.3 0 1 1 5.3,-15 C5.3,-11.5 3.6,-9.5 2.3,-7 C1.2,-5 0.6,-3 0,0.6 Z" transform="rotate(288)" fill="#000"/></g>
<path d="M219.9,1289.5 L219.9,1251.7" fill="none" stroke="#000" stroke-width="2.6" stroke-linecap="round"/>
<path d="M208.1,1263.7 Q215.9,1256.7 219.9,1250.7 Q223.9,1256.7 231.70000000000002,1263.7" fill="none" stroke="#000" stroke-width="2" />
<path d="M375.3,1289.5 L375.3,1251.7" fill="none" stroke="#000" stroke-width="2.6" stroke-linecap="round"/>
<path d="M363.5,1263.7 Q371.3,1256.7 375.3,1250.7 Q379.3,1256.7 387.1,1263.7" fill="none" stroke="#000" stroke-width="2" />
<text transform="translate(234.01,1289.00) scale(1.0089,1)" font-family="'Liberation Serif', serif" font-weight="bold" font-style="normal" font-size="42" fill="#000">1</text>
<text transform="translate(389.41,1289.00) scale(1.0728,1)" font-family="'Liberation Serif', serif" font-weight="bold" font-style="normal" font-size="42" fill="#000">2</text>
<line x1="385.00" y1="367.20" x2="440.30" y2="367.20" stroke="#000" stroke-width="2.1" />
<circle cx="412.70" cy="367.20" r="15.3" fill="#fff" stroke="#000" stroke-width="2.6"/>
<line x1="385.00" y1="424.00" x2="440.30" y2="424.00" stroke="#000" stroke-width="2.1" />
<rect x="397.65" y="408.65" width="30.7" height="30.7" fill="#d4d4d4" stroke="#000" stroke-width="2.5"/>
<line x1="385.00" y1="486.30" x2="440.30" y2="486.30" stroke="#000" stroke-width="2.1" />
<rect x="397.65" y="470.95" width="30.7" height="30.7" fill="#646464" stroke="#000" stroke-width="2.5"/>
<line x1="743.20" y1="366.50" x2="798.50" y2="366.50" stroke="#000" stroke-width="2.1" />
<path d="M771.00,351.00 L786.50,366.50 L771.00,382.00 L755.50,366.50 Z" fill="#d4d4d4" stroke="#000" stroke-width="2.5" stroke-linejoin="miter"/>
<line x1="743.20" y1="423.20" x2="798.50" y2="423.20" stroke="#000" stroke-width="2.1" />
<path d="M771.30,408.50 L786.80,439.50 L755.80,439.50 Z" fill="#3a3a3a" stroke="#000" stroke-width="2.5" stroke-linejoin="miter"/>
<line x1="743.20" y1="483.10" x2="798.50" y2="483.10" stroke="#000" stroke-width="2.1" />
<circle cx="771.00" cy="483.10" r="13" fill="#000" stroke="#000" stroke-width="0.5"/>
<text transform="translate(472.30,381.50) scale(1.0113,1)" font-family="'Liberation Serif', serif" font-weight="normal" font-style="normal" font-size="43.8" fill="#000">Vehicle</text>
<text transform="translate(470.63,438.30) scale(0.9874,1)" font-family="'Liberation Serif', serif" font-weight="normal" font-style="normal" font-size="43.8" fill="#000">CBD 5</text>
<text transform="translate(470.59,500.20) scale(0.9959,1)" font-family="'Liberation Serif', serif" font-weight="normal" font-style="normal" font-size="44.4" fill="#000">CBD 10</text>
<text transform="translate(828.68,380.70) scale(0.9980,1)" font-family="'Liberation Serif', serif" font-weight="normal" font-style="normal" font-size="44.4" fill="#000">CBD 20</text>
<text transform="translate(828.68,437.70) scale(1.0048,1)" font-family="'Liberation Serif', serif" font-weight="normal" font-style="normal" font-size="44.1" fill="#000">CBD 40</text>
<text transform="translate(828.71,498.20) scale(0.9426,1)" font-family="'Liberation Serif', serif" font-weight="normal" font-style="normal" font-size="46.3" fill="#000">Contralateral Paw</text>
<text transform="translate(12.24,1404.50) scale(0.9446,1)" font-family="'Liberation Sans', sans-serif" font-weight="bold" font-style="normal" font-size="45.5" fill="#000">C</text>
<clipPath id="sc1"><rect x="10.5" y="1480" width="353.0" height="236.5"/></clipPath>
<g clip-path="url(#sc1)">
<g transform="translate(182.5,0) scale(1,1)">
<path d="M-185,1511.5 C-150,1502 -110,1494.5 -77.3,1494.5 C-35,1494.5 -3,1515 0,1556" fill="none" stroke="#302b2b" stroke-width="1.7" />
<path d="M-185.00,1654.00 C-182.70,1653.05 -177.87,1652.13 -171.20,1648.30 C-164.53,1644.47 -153.12,1636.40 -145.00,1631.00 C-136.88,1625.60 -127.60,1619.23 -122.50,1615.90 C-117.40,1612.57 -117.10,1612.55 -114.40,1611.00 C-111.70,1609.45 -109.00,1607.60 -106.30,1606.60 C-103.60,1605.60 -100.62,1605.37 -98.20,1605.00 C-95.78,1604.63 -94.22,1604.27 -91.80,1604.40 C-89.38,1604.53 -85.87,1604.83 -83.70,1605.80 C-81.53,1606.77 -80.15,1608.52 -78.80,1610.20 C-77.45,1611.88 -76.68,1613.60 -75.60,1615.90 C-74.52,1618.20 -73.38,1621.30 -72.30,1624.00 C-71.22,1626.70 -70.17,1629.40 -69.10,1632.10 C-68.03,1634.80 -67.12,1637.50 -65.90,1640.20 C-64.68,1642.90 -63.42,1645.62 -61.80,1648.30 C-60.18,1650.98 -58.22,1653.20 -56.20,1656.30 C-54.18,1659.40 -52.13,1663.65 -49.70,1666.90 C-47.27,1670.15 -44.30,1673.12 -41.60,1675.80 C-38.90,1678.48 -36.68,1680.45 -33.50,1683.00 C-30.32,1685.55 -26.42,1688.85 -22.50,1691.10 C-18.58,1693.35 -13.75,1695.28 -10.00,1696.50 C-6.25,1697.72 -1.67,1698.08 0.00,1698.40" fill="none" stroke="#6a6464" stroke-width="1.2" />
<path d="M-114.40,1611.00 C-113.05,1610.60 -108.73,1609.10 -106.30,1608.60 C-103.87,1608.10 -101.82,1607.93 -99.80,1608.00 C-97.78,1608.07 -96.08,1608.22 -94.20,1609.00 C-92.32,1609.78 -90.25,1611.28 -88.50,1612.70 C-86.75,1614.12 -85.18,1615.62 -83.70,1617.50 C-82.22,1619.38 -80.95,1621.70 -79.60,1624.00 C-78.25,1626.30 -77.08,1628.73 -75.60,1631.30 C-74.12,1633.87 -72.32,1636.85 -70.70,1639.40 C-69.08,1641.95 -67.52,1644.18 -65.90,1646.60 C-64.28,1649.02 -62.77,1651.47 -61.00,1653.90 C-59.23,1656.33 -57.18,1658.77 -55.30,1661.20 C-53.42,1663.63 -51.98,1665.95 -49.70,1668.50 C-47.42,1671.05 -44.88,1673.58 -41.60,1676.50 C-38.32,1679.42 -34.43,1683.00 -30.00,1686.00 C-25.57,1689.00 -20.00,1692.50 -15.00,1694.50 C-10.00,1696.50 -2.50,1697.42 0.00,1698.00" fill="none" stroke="#6a6464" stroke-width="1.2" />
<path d="M-182.00,1720.00 C-181.33,1716.00 -179.40,1702.02 -178.00,1696.00 C-176.60,1689.98 -175.77,1688.07 -173.60,1683.90 C-171.43,1679.73 -167.57,1674.23 -165.00,1671.00 C-162.43,1667.77 -161.53,1667.00 -158.20,1664.50 C-154.87,1662.00 -149.78,1658.03 -145.00,1656.00 C-140.22,1653.97 -133.25,1652.85 -129.50,1652.30 C-125.75,1651.75 -125.02,1652.43 -122.50,1652.70 C-119.98,1652.97 -117.10,1653.15 -114.40,1653.90 C-111.70,1654.65 -109.00,1655.85 -106.30,1657.20 C-103.60,1658.55 -100.22,1660.60 -98.20,1662.00 C-96.18,1663.40 -97.73,1661.10 -94.20,1665.60 C-90.67,1670.10 -82.78,1680.97 -77.00,1689.00 C-71.22,1697.03 -63.00,1708.63 -59.50,1713.80 C-56.00,1718.97 -56.58,1718.97 -56.00,1720.00" fill="none" stroke="#6a6464" stroke-width="1.3" />
<line x1="-98.40" y1="1496.20" x2="-98.40" y2="1603.00" stroke="#888888" stroke-width="1.3" stroke-dasharray="3,2.4"/>
<line x1="-20.70" y1="1513.20" x2="-82.20" y2="1605.40" stroke="#888888" stroke-width="1.3" stroke-dasharray="3,2.4"/>
<line x1="-173.00" y1="1599.00" x2="-151.80" y2="1632.10" stroke="#888888" stroke-width="1.3" stroke-dasharray="3,2.4"/>
<line x1="-74.90" y1="1615.10" x2="0.00" y2="1588.40" stroke="#888888" stroke-width="1.3" stroke-dasharray="3,2.4"/>
<path d="M-94.2,1665.6 C-88,1675 -78,1688 -59.5,1714.5 L-62.5,1714.5 C-76,1694 -88,1678 -94.2,1665.6 Z" fill="#8a8a8e" stroke="#555" stroke-width="0.6" />
</g>
<g transform="translate(182.5,0) scale(-1,1)">
<path d="M-185,1511.5 C-150,1502 -110,1494.5 -77.3,1494.5 C-35,1494.5 -3,1515 0,1556" fill="none" stroke="#302b2b" stroke-width="1.7" />
<path d="M-185.00,1654.00 C-182.70,1653.05 -177.87,1652.13 -171.20,1648.30 C-164.53,1644.47 -153.12,1636.40 -145.00,1631.00 C-136.88,1625.60 -127.60,1619.23 -122.50,1615.90 C-117.40,1612.57 -117.10,1612.55 -114.40,1611.00 C-111.70,1609.45 -109.00,1607.60 -106.30,1606.60 C-103.60,1605.60 -100.62,1605.37 -98.20,1605.00 C-95.78,1604.63 -94.22,1604.27 -91.80,1604.40 C-89.38,1604.53 -85.87,1604.83 -83.70,1605.80 C-81.53,1606.77 -80.15,1608.52 -78.80,1610.20 C-77.45,1611.88 -76.68,1613.60 -75.60,1615.90 C-74.52,1618.20 -73.38,1621.30 -72.30,1624.00 C-71.22,1626.70 -70.17,1629.40 -69.10,1632.10 C-68.03,1634.80 -67.12,1637.50 -65.90,1640.20 C-64.68,1642.90 -63.42,1645.62 -61.80,1648.30 C-60.18,1650.98 -58.22,1653.20 -56.20,1656.30 C-54.18,1659.40 -52.13,1663.65 -49.70,1666.90 C-47.27,1670.15 -44.30,1673.12 -41.60,1675.80 C-38.90,1678.48 -36.68,1680.45 -33.50,1683.00 C-30.32,1685.55 -26.42,1688.85 -22.50,1691.10 C-18.58,1693.35 -13.75,1695.28 -10.00,1696.50 C-6.25,1697.72 -1.67,1698.08 0.00,1698.40" fill="none" stroke="#6a6464" stroke-width="1.2" />
<path d="M-114.40,1611.00 C-113.05,1610.60 -108.73,1609.10 -106.30,1608.60 C-103.87,1608.10 -101.82,1607.93 -99.80,1608.00 C-97.78,1608.07 -96.08,1608.22 -94.20,1609.00 C-92.32,1609.78 -90.25,1611.28 -88.50,1612.70 C-86.75,1614.12 -85.18,1615.62 -83.70,1617.50 C-82.22,1619.38 -80.95,1621.70 -79.60,1624.00 C-78.25,1626.30 -77.08,1628.73 -75.60,1631.30 C-74.12,1633.87 -72.32,1636.85 -70.70,1639.40 C-69.08,1641.95 -67.52,1644.18 -65.90,1646.60 C-64.28,1649.02 -62.77,1651.47 -61.00,1653.90 C-59.23,1656.33 -57.18,1658.77 -55.30,1661.20 C-53.42,1663.63 -51.98,1665.95 -49.70,1668.50 C-47.42,1671.05 -44.88,1673.58 -41.60,1676.50 C-38.32,1679.42 -34.43,1683.00 -30.00,1686.00 C-25.57,1689.00 -20.00,1692.50 -15.00,1694.50 C-10.00,1696.50 -2.50,1697.42 0.00,1698.00" fill="none" stroke="#6a6464" stroke-width="1.2" />
<path d="M-182.00,1720.00 C-181.33,1716.00 -179.40,1702.02 -178.00,1696.00 C-176.60,1689.98 -175.77,1688.07 -173.60,1683.90 C-171.43,1679.73 -167.57,1674.23 -165.00,1671.00 C-162.43,1667.77 -161.53,1667.00 -158.20,1664.50 C-154.87,1662.00 -149.78,1658.03 -145.00,1656.00 C-140.22,1653.97 -133.25,1652.85 -129.50,1652.30 C-125.75,1651.75 -125.02,1652.43 -122.50,1652.70 C-119.98,1652.97 -117.10,1653.15 -114.40,1653.90 C-111.70,1654.65 -109.00,1655.85 -106.30,1657.20 C-103.60,1658.55 -100.22,1660.60 -98.20,1662.00 C-96.18,1663.40 -97.73,1661.10 -94.20,1665.60 C-90.67,1670.10 -82.78,1680.97 -77.00,1689.00 C-71.22,1697.03 -63.00,1708.63 -59.50,1713.80 C-56.00,1718.97 -56.58,1718.97 -56.00,1720.00" fill="none" stroke="#6a6464" stroke-width="1.3" />
<line x1="-98.40" y1="1496.20" x2="-98.40" y2="1603.00" stroke="#888888" stroke-width="1.3" stroke-dasharray="3,2.4"/>
<line x1="-20.70" y1="1513.20" x2="-82.20" y2="1605.40" stroke="#888888" stroke-width="1.3" stroke-dasharray="3,2.4"/>
<line x1="-173.00" y1="1599.00" x2="-151.80" y2="1632.10" stroke="#888888" stroke-width="1.3" stroke-dasharray="3,2.4"/>
<line x1="-74.90" y1="1615.10" x2="0.00" y2="1588.40" stroke="#888888" stroke-width="1.3" stroke-dasharray="3,2.4"/>
<path d="M-94.2,1665.6 C-88,1675 -78,1688 -59.5,1714.5 L-62.5,1714.5 C-76,1694 -88,1678 -94.2,1665.6 Z" fill="#8a8a8e" stroke="#555" stroke-width="0.6" />
</g>
</g>
<clipPath id="sc2"><rect x="425.5" y="1480" width="367.5" height="240.5"/></clipPath>
<g clip-path="url(#sc2)">
<g transform="translate(605.2,0) scale(1,1)">
<path d="M-190,1518.5 C-150,1506 -110,1496.2 -71.7,1496.2 C-35,1496.2 -3,1515 0,1540.7" fill="none" stroke="#302b2b" stroke-width="1.7" />
<path d="M-190.00,1660.00 C-188.50,1659.27 -187.67,1659.60 -181.00,1655.60 C-174.33,1651.60 -159.30,1641.65 -150.00,1636.00 C-140.70,1630.35 -131.77,1625.43 -125.20,1621.70 C-118.63,1617.97 -114.65,1615.68 -110.60,1613.60 C-106.55,1611.52 -103.58,1610.22 -100.90,1609.20 C-98.22,1608.18 -96.65,1607.68 -94.50,1607.50 C-92.35,1607.32 -90.17,1607.68 -88.00,1608.10 C-85.83,1608.52 -83.67,1608.82 -81.50,1610.00 C-79.33,1611.18 -76.88,1613.12 -75.00,1615.20 C-73.12,1617.28 -71.55,1619.93 -70.20,1622.50 C-68.85,1625.07 -68.12,1627.63 -66.90,1630.60 C-65.68,1633.57 -64.38,1636.80 -62.90,1640.30 C-61.42,1643.80 -59.48,1648.50 -58.00,1651.60 C-56.52,1654.70 -56.02,1656.20 -54.00,1658.90 C-51.98,1661.60 -48.87,1664.70 -45.90,1667.80 C-42.93,1670.90 -39.65,1674.53 -36.20,1677.50 C-32.75,1680.47 -29.23,1683.35 -25.20,1685.60 C-21.17,1687.85 -16.20,1689.72 -12.00,1691.00 C-7.80,1692.28 -2.00,1692.92 0.00,1693.30" fill="none" stroke="#6a6464" stroke-width="1.2" />
<path d="M-110.60,1613.60 C-109.67,1613.63 -107.28,1613.53 -105.00,1613.80 C-102.72,1614.07 -99.60,1614.42 -96.90,1615.20 C-94.20,1615.98 -91.23,1617.15 -88.80,1618.50 C-86.37,1619.85 -84.32,1621.28 -82.30,1623.30 C-80.28,1625.32 -78.32,1628.30 -76.70,1630.60 C-75.08,1632.90 -73.95,1634.95 -72.60,1637.10 C-71.25,1639.25 -70.08,1641.08 -68.60,1643.50 C-67.12,1645.92 -65.32,1649.03 -63.70,1651.60 C-62.08,1654.17 -60.78,1656.47 -58.90,1658.90 C-57.02,1661.33 -54.83,1663.90 -52.40,1666.20 C-49.97,1668.50 -47.00,1670.55 -44.30,1672.70 C-41.60,1674.85 -38.92,1677.22 -36.20,1679.10 C-33.48,1680.98 -31.53,1682.18 -28.00,1684.00 C-24.47,1685.82 -19.67,1688.53 -15.00,1690.00 C-10.33,1691.47 -2.50,1692.33 0.00,1692.80" fill="none" stroke="#6a6464" stroke-width="1.2" />
<path d="M-190.00,1700.00 C-188.08,1696.92 -181.83,1686.17 -178.50,1681.50 C-175.17,1676.83 -172.97,1674.57 -170.00,1672.00 C-167.03,1669.43 -165.70,1668.77 -160.70,1666.10 C-155.70,1663.43 -145.92,1658.22 -140.00,1656.00 C-134.08,1653.78 -129.02,1653.28 -125.20,1652.80 C-121.38,1652.32 -119.80,1652.75 -117.10,1653.10 C-114.40,1653.45 -111.70,1653.93 -109.00,1654.90 C-106.30,1655.87 -103.32,1657.42 -100.90,1658.90 C-98.48,1660.38 -96.12,1662.58 -94.50,1663.80 C-92.88,1665.02 -94.28,1662.58 -91.20,1666.20 C-88.12,1669.82 -81.12,1679.03 -76.00,1685.50 C-70.88,1691.97 -65.25,1699.25 -60.50,1705.00 C-55.75,1710.75 -50.08,1716.83 -47.50,1720.00 C-44.92,1723.17 -45.42,1723.33 -45.00,1724.00" fill="none" stroke="#6a6464" stroke-width="1.3" />
<line x1="-103.30" y1="1499.40" x2="-95.20" y2="1607.80" stroke="#888888" stroke-width="1.3" stroke-dasharray="3,2.4"/>
<line x1="-17.50" y1="1513.00" x2="-81.40" y2="1609.40" stroke="#888888" stroke-width="1.3" stroke-dasharray="3,2.4"/>
<line x1="-180.00" y1="1580.00" x2="-146.20" y2="1632.10" stroke="#888888" stroke-width="1.3" stroke-dasharray="3,2.4"/>
<line x1="-73.30" y1="1616.70" x2="0.00" y2="1594.10" stroke="#888888" stroke-width="1.3" stroke-dasharray="3,2.4"/>
<path d="M-91.2,1666.2 C-80,1681 -68,1696 -47.5,1721 L-56,1721 C-58,1712 -62,1706 -65,1702 C-75,1690 -85,1677 -91.2,1666.2 Z" fill="#8a8a8e" stroke="#555" stroke-width="0.6" />
</g>
<g transform="translate(605.2,0) scale(-1,1)">
<path d="M-190,1518.5 C-150,1506 -110,1496.2 -71.7,1496.2 C-35,1496.2 -3,1515 0,1540.7" fill="none" stroke="#302b2b" stroke-width="1.7" />
<path d="M-190.00,1660.00 C-188.50,1659.27 -187.67,1659.60 -181.00,1655.60 C-174.33,1651.60 -159.30,1641.65 -150.00,1636.00 C-140.70,1630.35 -131.77,1625.43 -125.20,1621.70 C-118.63,1617.97 -114.65,1615.68 -110.60,1613.60 C-106.55,1611.52 -103.58,1610.22 -100.90,1609.20 C-98.22,1608.18 -96.65,1607.68 -94.50,1607.50 C-92.35,1607.32 -90.17,1607.68 -88.00,1608.10 C-85.83,1608.52 -83.67,1608.82 -81.50,1610.00 C-79.33,1611.18 -76.88,1613.12 -75.00,1615.20 C-73.12,1617.28 -71.55,1619.93 -70.20,1622.50 C-68.85,1625.07 -68.12,1627.63 -66.90,1630.60 C-65.68,1633.57 -64.38,1636.80 -62.90,1640.30 C-61.42,1643.80 -59.48,1648.50 -58.00,1651.60 C-56.52,1654.70 -56.02,1656.20 -54.00,1658.90 C-51.98,1661.60 -48.87,1664.70 -45.90,1667.80 C-42.93,1670.90 -39.65,1674.53 -36.20,1677.50 C-32.75,1680.47 -29.23,1683.35 -25.20,1685.60 C-21.17,1687.85 -16.20,1689.72 -12.00,1691.00 C-7.80,1692.28 -2.00,1692.92 0.00,1693.30" fill="none" stroke="#6a6464" stroke-width="1.2" />
<path d="M-110.60,1613.60 C-109.67,1613.63 -107.28,1613.53 -105.00,1613.80 C-102.72,1614.07 -99.60,1614.42 -96.90,1615.20 C-94.20,1615.98 -91.23,1617.15 -88.80,1618.50 C-86.37,1619.85 -84.32,1621.28 -82.30,1623.30 C-80.28,1625.32 -78.32,1628.30 -76.70,1630.60 C-75.08,1632.90 -73.95,1634.95 -72.60,1637.10 C-71.25,1639.25 -70.08,1641.08 -68.60,1643.50 C-67.12,1645.92 -65.32,1649.03 -63.70,1651.60 C-62.08,1654.17 -60.78,1656.47 -58.90,1658.90 C-57.02,1661.33 -54.83,1663.90 -52.40,1666.20 C-49.97,1668.50 -47.00,1670.55 -44.30,1672.70 C-41.60,1674.85 -38.92,1677.22 -36.20,1679.10 C-33.48,1680.98 -31.53,1682.18 -28.00,1684.00 C-24.47,1685.82 -19.67,1688.53 -15.00,1690.00 C-10.33,1691.47 -2.50,1692.33 0.00,1692.80" fill="none" stroke="#6a6464" stroke-width="1.2" />
<path d="M-190.00,1700.00 C-188.08,1696.92 -181.83,1686.17 -178.50,1681.50 C-175.17,1676.83 -172.97,1674.57 -170.00,1672.00 C-167.03,1669.43 -165.70,1668.77 -160.70,1666.10 C-155.70,1663.43 -145.92,1658.22 -140.00,1656.00 C-134.08,1653.78 -129.02,1653.28 -125.20,1652.80 C-121.38,1652.32 -119.80,1652.75 -117.10,1653.10 C-114.40,1653.45 -111.70,1653.93 -109.00,1654.90 C-106.30,1655.87 -103.32,1657.42 -100.90,1658.90 C-98.48,1660.38 -96.12,1662.58 -94.50,1663.80 C-92.88,1665.02 -94.28,1662.58 -91.20,1666.20 C-88.12,1669.82 -81.12,1679.03 -76.00,1685.50 C-70.88,1691.97 -65.25,1699.25 -60.50,1705.00 C-55.75,1710.75 -50.08,1716.83 -47.50,1720.00 C-44.92,1723.17 -45.42,1723.33 -45.00,1724.00" fill="none" stroke="#6a6464" stroke-width="1.3" />
<line x1="-103.30" y1="1499.40" x2="-95.20" y2="1607.80" stroke="#888888" stroke-width="1.3" stroke-dasharray="3,2.4"/>
<line x1="-17.50" y1="1513.00" x2="-81.40" y2="1609.40" stroke="#888888" stroke-width="1.3" stroke-dasharray="3,2.4"/>
<line x1="-180.00" y1="1580.00" x2="-146.20" y2="1632.10" stroke="#888888" stroke-width="1.3" stroke-dasharray="3,2.4"/>
<line x1="-73.30" y1="1616.70" x2="0.00" y2="1594.10" stroke="#888888" stroke-width="1.3" stroke-dasharray="3,2.4"/>
<path d="M-91.2,1666.2 C-80,1681 -68,1696 -47.5,1721 L-56,1721 C-58,1712 -62,1706 -65,1702 C-75,1690 -85,1677 -91.2,1666.2 Z" fill="#8a8a8e" stroke="#555" stroke-width="0.6" />
</g>
</g>
<clipPath id="sc3"><rect x="854.5" y="1480" width="363.5" height="240.5"/></clipPath>
<g clip-path="url(#sc3)">
<g transform="translate(1032.2,0) scale(1,1)">
<path d="M-190,1514.5 C-150,1503 -115,1496.2 -82.2,1496.2 C-40,1496.2 -4,1512 0,1557.7" fill="none" stroke="#302b2b" stroke-width="1.7" />
<path d="M-190.00,1654.00 C-187.80,1652.92 -183.47,1650.58 -176.80,1647.50 C-170.13,1644.42 -157.43,1639.13 -150.00,1635.50 C-142.57,1631.87 -137.18,1628.13 -132.20,1625.70 C-127.22,1623.27 -124.68,1622.85 -120.10,1620.90 C-115.52,1618.95 -109.15,1615.62 -104.70,1614.00 C-100.25,1612.38 -96.37,1611.83 -93.40,1611.20 C-90.43,1610.57 -88.80,1610.20 -86.90,1610.20 C-85.00,1610.20 -83.62,1610.23 -82.00,1611.20 C-80.38,1612.17 -78.68,1614.25 -77.20,1616.00 C-75.72,1617.75 -74.32,1619.53 -73.10,1621.70 C-71.88,1623.87 -70.97,1626.43 -69.90,1629.00 C-68.83,1631.57 -67.92,1634.13 -66.70,1637.10 C-65.48,1640.07 -64.08,1643.57 -62.60,1646.80 C-61.12,1650.03 -59.68,1653.40 -57.80,1656.50 C-55.92,1659.60 -53.73,1662.57 -51.30,1665.40 C-48.87,1668.23 -46.38,1670.93 -43.20,1673.50 C-40.02,1676.07 -36.90,1678.80 -32.20,1680.80 C-27.50,1682.80 -20.37,1684.45 -15.00,1685.50 C-9.63,1686.55 -2.50,1686.83 0.00,1687.10" fill="none" stroke="#6a6464" stroke-width="1.2" />
<path d="M-120.10,1620.90 C-118.07,1620.87 -111.95,1620.73 -107.90,1620.70 C-103.85,1620.67 -98.77,1620.60 -95.80,1620.70 C-92.83,1620.80 -91.85,1620.73 -90.10,1621.30 C-88.35,1621.87 -86.78,1622.82 -85.30,1624.10 C-83.82,1625.38 -82.55,1627.10 -81.20,1629.00 C-79.85,1630.90 -78.68,1632.93 -77.20,1635.50 C-75.72,1638.07 -73.92,1641.58 -72.30,1644.40 C-70.68,1647.22 -69.25,1649.72 -67.50,1652.40 C-65.75,1655.08 -63.97,1657.93 -61.80,1660.50 C-59.63,1663.07 -57.07,1665.50 -54.50,1667.80 C-51.93,1670.10 -49.37,1672.42 -46.40,1674.30 C-43.43,1676.18 -40.27,1677.65 -36.70,1679.10 C-33.13,1680.55 -29.12,1681.97 -25.00,1683.00 C-20.88,1684.03 -16.17,1684.80 -12.00,1685.30 C-7.83,1685.80 -2.00,1685.88 0.00,1686.00" fill="none" stroke="#6a6464" stroke-width="1.2" />
<path d="M-190.00,1677.00 C-187.80,1675.72 -181.83,1672.47 -176.80,1669.30 C-171.77,1666.13 -165.10,1660.88 -159.80,1658.00 C-154.50,1655.12 -149.60,1653.27 -145.00,1652.00 C-140.40,1650.73 -136.35,1650.60 -132.20,1650.40 C-128.05,1650.20 -124.15,1650.18 -120.10,1650.80 C-116.05,1651.42 -111.55,1652.48 -107.90,1654.10 C-104.25,1655.72 -101.35,1657.93 -98.20,1660.50 C-95.05,1663.07 -91.83,1666.53 -89.00,1669.50 C-86.17,1672.47 -84.78,1674.13 -81.20,1678.30 C-77.62,1682.47 -71.92,1687.63 -67.50,1694.50 C-63.08,1701.37 -57.12,1714.58 -54.70,1719.50 C-52.28,1724.42 -53.28,1723.25 -53.00,1724.00" fill="none" stroke="#6a6464" stroke-width="1.3" />
<line x1="-121.00" y1="1500.20" x2="-104.80" y2="1613.50" stroke="#888888" stroke-width="1.3" stroke-dasharray="3,2.4"/>
<line x1="-30.40" y1="1508.30" x2="-84.60" y2="1609.40" stroke="#888888" stroke-width="1.3" stroke-dasharray="3,2.4"/>
<line x1="-180.00" y1="1578.00" x2="-154.20" y2="1632.90" stroke="#888888" stroke-width="1.3" stroke-dasharray="3,2.4"/>
<line x1="-73.30" y1="1619.20" x2="0.00" y2="1595.70" stroke="#888888" stroke-width="1.3" stroke-dasharray="3,2.4"/>
<path d="M-67.6,1695.2 L-62.8,1720.3 L-40.9,1720.3 Z" fill="#8a8a8e" stroke="#555" stroke-width="0.6" />
<path d="M-97.4,1661.3 C-93,1666 -89,1673 -81.2,1678.3 C-86,1672 -90,1664 -97.4,1661.3 Z" fill="none" stroke="#6a6464" stroke-width="1.1" />
<path d="M-60.5,1711.4 L-60,1720.3 L-46.6,1720.3 Z" fill="#1e1a1a" stroke="none" stroke-width="0" />
</g>
<g transform="translate(1032.2,0) scale(-1,1)">
<path d="M-190,1514.5 C-150,1503 -115,1496.2 -82.2,1496.2 C-40,1496.2 -4,1512 0,1557.7" fill="none" stroke="#302b2b" stroke-width="1.7" />
<path d="M-190.00,1654.00 C-187.80,1652.92 -183.47,1650.58 -176.80,1647.50 C-170.13,1644.42 -157.43,1639.13 -150.00,1635.50 C-142.57,1631.87 -137.18,1628.13 -132.20,1625.70 C-127.22,1623.27 -124.68,1622.85 -120.10,1620.90 C-115.52,1618.95 -109.15,1615.62 -104.70,1614.00 C-100.25,1612.38 -96.37,1611.83 -93.40,1611.20 C-90.43,1610.57 -88.80,1610.20 -86.90,1610.20 C-85.00,1610.20 -83.62,1610.23 -82.00,1611.20 C-80.38,1612.17 -78.68,1614.25 -77.20,1616.00 C-75.72,1617.75 -74.32,1619.53 -73.10,1621.70 C-71.88,1623.87 -70.97,1626.43 -69.90,1629.00 C-68.83,1631.57 -67.92,1634.13 -66.70,1637.10 C-65.48,1640.07 -64.08,1643.57 -62.60,1646.80 C-61.12,1650.03 -59.68,1653.40 -57.80,1656.50 C-55.92,1659.60 -53.73,1662.57 -51.30,1665.40 C-48.87,1668.23 -46.38,1670.93 -43.20,1673.50 C-40.02,1676.07 -36.90,1678.80 -32.20,1680.80 C-27.50,1682.80 -20.37,1684.45 -15.00,1685.50 C-9.63,1686.55 -2.50,1686.83 0.00,1687.10" fill="none" stroke="#6a6464" stroke-width="1.2" />
<path d="M-120.10,1620.90 C-118.07,1620.87 -111.95,1620.73 -107.90,1620.70 C-103.85,1620.67 -98.77,1620.60 -95.80,1620.70 C-92.83,1620.80 -91.85,1620.73 -90.10,1621.30 C-88.35,1621.87 -86.78,1622.82 -85.30,1624.10 C-83.82,1625.38 -82.55,1627.10 -81.20,1629.00 C-79.85,1630.90 -78.68,1632.93 -77.20,1635.50 C-75.72,1638.07 -73.92,1641.58 -72.30,1644.40 C-70.68,1647.22 -69.25,1649.72 -67.50,1652.40 C-65.75,1655.08 -63.97,1657.93 -61.80,1660.50 C-59.63,1663.07 -57.07,1665.50 -54.50,1667.80 C-51.93,1670.10 -49.37,1672.42 -46.40,1674.30 C-43.43,1676.18 -40.27,1677.65 -36.70,1679.10 C-33.13,1680.55 -29.12,1681.97 -25.00,1683.00 C-20.88,1684.03 -16.17,1684.80 -12.00,1685.30 C-7.83,1685.80 -2.00,1685.88 0.00,1686.00" fill="none" stroke="#6a6464" stroke-width="1.2" />
<path d="M-190.00,1677.00 C-187.80,1675.72 -181.83,1672.47 -176.80,1669.30 C-171.77,1666.13 -165.10,1660.88 -159.80,1658.00 C-154.50,1655.12 -149.60,1653.27 -145.00,1652.00 C-140.40,1650.73 -136.35,1650.60 -132.20,1650.40 C-128.05,1650.20 -124.15,1650.18 -120.10,1650.80 C-116.05,1651.42 -111.55,1652.48 -107.90,1654.10 C-104.25,1655.72 -101.35,1657.93 -98.20,1660.50 C-95.05,1663.07 -91.83,1666.53 -89.00,1669.50 C-86.17,1672.47 -84.78,1674.13 -81.20,1678.30 C-77.62,1682.47 -71.92,1687.63 -67.50,1694.50 C-63.08,1701.37 -57.12,1714.58 -54.70,1719.50 C-52.28,1724.42 -53.28,1723.25 -53.00,1724.00" fill="none" stroke="#6a6464" stroke-width="1.3" />
<line x1="-121.00" y1="1500.20" x2="-104.80" y2="1613.50" stroke="#888888" stroke-width="1.3" stroke-dasharray="3,2.4"/>
<line x1="-30.40" y1="1508.30" x2="-84.60" y2="1609.40" stroke="#888888" stroke-width="1.3" stroke-dasharray="3,2.4"/>
<line x1="-180.00" y1="1578.00" x2="-154.20" y2="1632.90" stroke="#888888" stroke-width="1.3" stroke-dasharray="3,2.4"/>
<line x1="-73.30" y1="1619.20" x2="0.00" y2="1595.70" stroke="#888888" stroke-width="1.3" stroke-dasharray="3,2.4"/>
<path d="M-67.6,1695.2 L-62.8,1720.3 L-40.9,1720.3 Z" fill="#8a8a8e" stroke="#555" stroke-width="0.6" />
<path d="M-97.4,1661.3 C-93,1666 -89,1673 -81.2,1678.3 C-86,1672 -90,1664 -97.4,1661.3 Z" fill="none" stroke="#6a6464" stroke-width="1.1" />
<path d="M-60.5,1711.4 L-60,1720.3 L-46.6,1720.3 Z" fill="#1e1a1a" stroke="none" stroke-width="0" />
</g>
</g>
<line x1="182.50" y1="1556.00" x2="182.50" y2="1676.00" stroke="#302b2b" stroke-width="1.5" />
<line x1="605.20" y1="1540.70" x2="605.20" y2="1678.00" stroke="#302b2b" stroke-width="1.5" />
<line x1="1032.20" y1="1557.70" x2="1032.20" y2="1673.50" stroke="#302b2b" stroke-width="1.5" />
<path d="M182.8,1671.3 L176.8,1682.7 Q180.8,1683.3 182.8,1686.3 Q184.8,1683.3 188.8,1682.7 Z" fill="#fff" stroke="#3a3535" stroke-width="1.2" stroke-linejoin="miter"/>
<line x1="182.80" y1="1686.30" x2="182.80" y2="1689.50" stroke="#3a3535" stroke-width="1.3" />
<circle cx="182.80" cy="1692.80" r="3.5" fill="#fff" stroke="#666" stroke-width="1.1"/>
<path d="M605.2,1673.5 L598.9000000000001,1683.2 Q603.2,1683.8 605.2,1687.1 Q607.2,1683.8 611.5,1683.2 Z" fill="#fff" stroke="#3a3535" stroke-width="1.2" stroke-linejoin="miter"/>
<line x1="605.20" y1="1687.10" x2="605.20" y2="1688.50" stroke="#3a3535" stroke-width="1.3" />
<circle cx="605.20" cy="1691.50" r="3.3" fill="#fff" stroke="#777" stroke-width="1.0"/>
<path d="M1032.2,1673.5 Q1030,1678 1024.7,1679.3 M1032.2,1673.5 Q1034.4,1678 1039.7,1679.3" fill="none" stroke="#333" stroke-width="1.1" />
<circle cx="1032.00" cy="1683.00" r="3.4" fill="#fff" stroke="#444" stroke-width="1.1"/>
<rect x="165.90" y="1608.90" width="13.4" height="13.4" fill="#d4d4d4" stroke="#000" stroke-width="2.6"/>
<path d="M173.10,1590.60 L182.70,1600.20 L173.10,1609.80 L163.50,1600.20 Z" fill="#d4d4d4" stroke="#000" stroke-width="2.6" stroke-linejoin="miter"/>
<circle cx="154.30" cy="1624.50" r="7.3" fill="#fff" stroke="#000" stroke-width="2.6"/>
<rect x="145.90" y="1603.10" width="13.4" height="13.4" fill="#5a5a5a" stroke="#000" stroke-width="2.6"/>
<rect x="132.30" y="1631.30" width="13.4" height="13.4" fill="#d4d4d4" stroke="#000" stroke-width="2.6"/>
<rect x="119.00" y="1615.80" width="13.4" height="13.4" fill="#d4d4d4" stroke="#000" stroke-width="2.6"/>
<path d="M153.00,1626.45 L162.35,1643.35 L143.65,1643.35 Z" fill="#000" stroke="none" stroke-width="2" />
<path d="M128.40,1636.90 L138.00,1646.50 L128.40,1656.10 L118.80,1646.50 Z" fill="#d4d4d4" stroke="#000" stroke-width="2.6" stroke-linejoin="miter"/>
<path d="M173.80,1629.80 L183.40,1639.40 L173.80,1649.00 L164.20,1639.40 Z" fill="#d4d4d4" stroke="#000" stroke-width="2.6" stroke-linejoin="miter"/>
<path d="M159.20,1659.80 L168.80,1669.40 L159.20,1679.00 L149.60,1669.40 Z" fill="#d4d4d4" stroke="#000" stroke-width="2.6" stroke-linejoin="miter"/>
<rect x="136.50" y="1650.90" width="13.4" height="13.4" fill="#d4d4d4" stroke="#000" stroke-width="2.6"/>
<circle cx="155.30" cy="1658.80" r="7.3" fill="#fff" stroke="#000" stroke-width="2.6"/>
<rect x="154.60" y="1647.00" width="13.4" height="13.4" fill="#5a5a5a" stroke="#000" stroke-width="2.6"/>
<path d="M173.80,1654.90 L183.50,1671.70 L164.10,1671.70 Z" fill="#000" stroke="none" stroke-width="2" />
<path d="M222.40,1610.80 L232.00,1620.40 L222.40,1630.00 L212.80,1620.40 Z" fill="#d4d4d4" stroke="#000" stroke-width="2.6" stroke-linejoin="miter"/>
<rect x="210.20" y="1615.50" width="13.4" height="13.4" fill="#5a5a5a" stroke="#000" stroke-width="2.6"/>
<rect x="198.70" y="1600.00" width="13.4" height="13.4" fill="#d4d4d4" stroke="#000" stroke-width="2.6"/>
<path d="M193.60,1605.90 L203.30,1623.30 L183.90,1623.30 Z" fill="#000" stroke="none" stroke-width="2" />
<rect x="235.90" y="1602.80" width="13.4" height="13.4" fill="#d4d4d4" stroke="#000" stroke-width="2.6"/>
<circle cx="241.80" cy="1625.00" r="7.3" fill="#fff" stroke="#000" stroke-width="2.6"/>
<rect x="192.20" y="1626.70" width="13.4" height="13.4" fill="#d4d4d4" stroke="#000" stroke-width="2.6"/>
<path d="M211.70,1628.30 L221.30,1637.90 L211.70,1647.50 L202.10,1637.90 Z" fill="#d4d4d4" stroke="#000" stroke-width="2.6" stroke-linejoin="miter"/>
<rect x="226.60" y="1633.80" width="13.4" height="13.4" fill="#d4d4d4" stroke="#000" stroke-width="2.6"/>
<path d="M234.40,1642.50 L244.00,1652.10 L234.40,1661.70 L224.80,1652.10 Z" fill="#d4d4d4" stroke="#000" stroke-width="2.6" stroke-linejoin="miter"/>
<rect x="216.20" y="1649.80" width="13.4" height="13.4" fill="#5a5a5a" stroke="#000" stroke-width="2.6"/>
<path d="M202.00,1661.30 L211.60,1670.90 L202.00,1680.50 L192.40,1670.90 Z" fill="#d4d4d4" stroke="#000" stroke-width="2.6" stroke-linejoin="miter"/>
<circle cx="206.20" cy="1655.40" r="7.3" fill="#fff" stroke="#000" stroke-width="2.6"/>
<path d="M194.60,1642.40 L204.35,1657.60 L184.85,1657.60 Z" fill="#000" stroke="none" stroke-width="2" />
<path d="M590.70,1602.60 L600.30,1612.20 L590.70,1621.80 L581.10,1612.20 Z" fill="#d4d4d4" stroke="#000" stroke-width="2.6" stroke-linejoin="miter"/>
<circle cx="592.60" cy="1628.20" r="7.3" fill="#fff" stroke="#000" stroke-width="2.6"/>
<rect x="573.00" y="1612.50" width="13.4" height="13.4" fill="#5a5a5a" stroke="#000" stroke-width="2.6"/>
<path d="M559.60,1600.05 L568.70,1616.95 L550.50,1616.95 Z" fill="#000" stroke="none" stroke-width="2" />
<circle cx="562.80" cy="1627.90" r="7.3" fill="#fff" stroke="#000" stroke-width="2.6"/>
<path d="M547.90,1618.50 L557.50,1628.10 L547.90,1637.70 L538.30,1628.10 Z" fill="#d4d4d4" stroke="#000" stroke-width="2.6" stroke-linejoin="miter"/>
<path d="M578.00,1625.70 L587.60,1635.30 L578.00,1644.90 L568.40,1635.30 Z" fill="#d4d4d4" stroke="#000" stroke-width="2.6" stroke-linejoin="miter"/>
<circle cx="584.20" cy="1647.00" r="7.3" fill="#fff" stroke="#000" stroke-width="2.6"/>
<path d="M571.90,1641.10 L580.30,1657.30 L563.50,1657.30 Z" fill="#000" stroke="none" stroke-width="2" />
<rect x="551.10" y="1641.40" width="13.4" height="13.4" fill="#5a5a5a" stroke="#000" stroke-width="2.6"/>
<rect x="587.90" y="1647.40" width="13.4" height="13.4" fill="#5a5a5a" stroke="#000" stroke-width="2.6"/>
<rect x="574.80" y="1659.30" width="13.4" height="13.4" fill="#d4d4d4" stroke="#000" stroke-width="2.6"/>
<path d="M587.60,1663.10 L597.50,1681.90 L577.70,1681.90 Z" fill="#000" stroke="none" stroke-width="2" />
<path d="M617.00,1594.90 L626.90,1611.70 L607.10,1611.70 Z" fill="#000" stroke="none" stroke-width="2" />
<path d="M634.30,1609.20 L643.90,1618.80 L634.30,1628.40 L624.70,1618.80 Z" fill="#d4d4d4" stroke="#000" stroke-width="2.6" stroke-linejoin="miter"/>
<rect x="614.20" y="1615.90" width="13.4" height="13.4" fill="#5a5a5a" stroke="#000" stroke-width="2.6"/>
<path d="M661.80,1606.80 L670.20,1624.00 L653.40,1624.00 Z" fill="#000" stroke="none" stroke-width="2" />
<circle cx="653.00" cy="1636.40" r="7.3" fill="#fff" stroke="#000" stroke-width="2.6"/>
<rect x="644.90" y="1620.30" width="13.4" height="13.4" fill="#5a5a5a" stroke="#000" stroke-width="2.6"/>
<path d="M634.30,1626.95 L643.40,1642.85 L625.20,1642.85 Z" fill="#000" stroke="none" stroke-width="2" />
<circle cx="633.30" cy="1648.30" r="7.3" fill="#fff" stroke="#000" stroke-width="2.6"/>
<path d="M618.80,1633.20 L628.40,1642.80 L618.80,1652.40 L609.20,1642.80 Z" fill="#d4d4d4" stroke="#000" stroke-width="2.6" stroke-linejoin="miter"/>
<path d="M654.70,1640.80 L664.30,1650.40 L654.70,1660.00 L645.10,1650.40 Z" fill="#d4d4d4" stroke="#000" stroke-width="2.6" stroke-linejoin="miter"/>
<rect x="635.50" y="1650.60" width="13.4" height="13.4" fill="#5a5a5a" stroke="#000" stroke-width="2.6"/>
<circle cx="622.00" cy="1663.10" r="7.3" fill="#fff" stroke="#000" stroke-width="2.6"/>
<rect x="619.70" y="1666.50" width="13.4" height="13.4" fill="#d4d4d4" stroke="#000" stroke-width="2.6"/>
<rect x="990.20" y="1602.80" width="13.4" height="13.4" fill="#5a5a5a" stroke="#000" stroke-width="2.6"/>
<circle cx="1006.00" cy="1623.00" r="7.3" fill="#fff" stroke="#000" stroke-width="2.6"/>
<path d="M1022.30,1600.00 L1031.90,1609.60 L1022.30,1619.20 L1012.70,1609.60 Z" fill="#d4d4d4" stroke="#000" stroke-width="2.6" stroke-linejoin="miter"/>
<path d="M1020.70,1618.05 L1029.60,1634.75 L1011.80,1634.75 Z" fill="#000" stroke="none" stroke-width="2" />
<path d="M981.20,1615.50 L990.80,1625.10 L981.20,1634.70 L971.60,1625.10 Z" fill="#d4d4d4" stroke="#000" stroke-width="2.6" stroke-linejoin="miter"/>
<path d="M1002.00,1623.90 L1011.60,1633.50 L1002.00,1643.10 L992.40,1633.50 Z" fill="#d4d4d4" stroke="#000" stroke-width="2.6" stroke-linejoin="miter"/>
<rect x="1009.10" y="1639.60" width="13.4" height="13.4" fill="#d4d4d4" stroke="#000" stroke-width="2.6"/>
<rect x="975.60" y="1638.60" width="13.4" height="13.4" fill="#5a5a5a" stroke="#000" stroke-width="2.6"/>
<path d="M991.10,1651.90 L1000.70,1661.50 L991.10,1671.10 L981.50,1661.50 Z" fill="#d4d4d4" stroke="#000" stroke-width="2.6" stroke-linejoin="miter"/>
<path d="M1000.40,1643.65 L1009.80,1660.15 L991.00,1660.15 Z" fill="#000" stroke="none" stroke-width="2" />
<path d="M1006.40,1656.10 L1016.00,1665.70 L1006.40,1675.30 L996.80,1665.70 Z" fill="#d4d4d4" stroke="#000" stroke-width="2.6" stroke-linejoin="miter"/>
<rect x="1041.70" y="1612.60" width="13.4" height="13.4" fill="#5a5a5a" stroke="#000" stroke-width="2.6"/>
<path d="M1052.80,1618.50 L1061.85,1635.30 L1043.75,1635.30 Z" fill="#000" stroke="none" stroke-width="2" />
<path d="M1065.30,1608.70 L1074.90,1618.30 L1065.30,1627.90 L1055.70,1618.30 Z" fill="#d4d4d4" stroke="#000" stroke-width="2.6" stroke-linejoin="miter"/>
<path d="M1088.10,1606.80 L1097.70,1616.40 L1088.10,1626.00 L1078.50,1616.40 Z" fill="#d4d4d4" stroke="#000" stroke-width="2.6" stroke-linejoin="miter"/>
<path d="M1087.30,1631.50 L1096.90,1641.10 L1087.30,1650.70 L1077.70,1641.10 Z" fill="#d4d4d4" stroke="#000" stroke-width="2.6" stroke-linejoin="miter"/>
<circle cx="1060.90" cy="1647.00" r="7.3" fill="#fff" stroke="#000" stroke-width="2.6"/>
<rect x="1042.10" y="1633.50" width="13.4" height="13.4" fill="#5a5a5a" stroke="#000" stroke-width="2.6"/>
<rect x="1066.60" y="1629.80" width="13.4" height="13.4" fill="#d4d4d4" stroke="#000" stroke-width="2.6"/>
<path d="M1045.30,1652.90 L1054.90,1662.50 L1045.30,1672.10 L1035.70,1662.50 Z" fill="#d4d4d4" stroke="#000" stroke-width="2.6" stroke-linejoin="miter"/>
<path d="M1073.90,1652.10 L1083.50,1661.70 L1073.90,1671.30 L1064.30,1661.70 Z" fill="#d4d4d4" stroke="#000" stroke-width="2.6" stroke-linejoin="miter"/>
<path d="M1059.70,1658.90 L1069.75,1676.10 L1049.65,1676.10 Z" fill="#000" stroke="none" stroke-width="2" />
<text transform="translate(239.45,1743.80) scale(0.9611,1)" font-family="'Liberation Serif', serif" font-weight="bold" font-style="normal" font-size="36" fill="#000">2.28 mm</text>
<text transform="translate(661.66,1743.80) scale(0.9557,1)" font-family="'Liberation Serif', serif" font-weight="bold" font-style="normal" font-size="36" fill="#000">2.04 mm</text>
<text transform="translate(1088.63,1743.80) scale(0.9605,1)" font-family="'Liberation Serif', serif" font-weight="bold" font-style="normal" font-size="36" fill="#000">1.80 mm</text>
</svg>
</body></html>
